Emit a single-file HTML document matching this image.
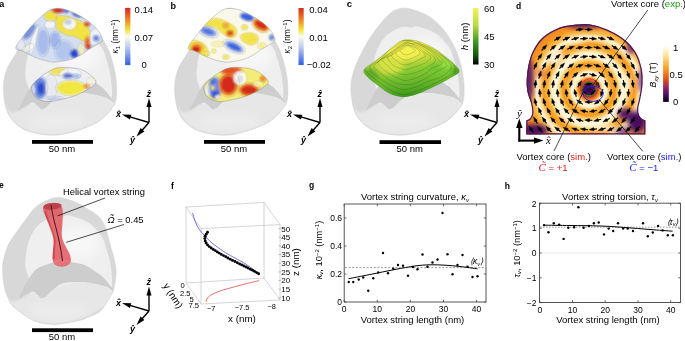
<!DOCTYPE html>
<html><head><meta charset="utf-8"><style>
html,body{margin:0;padding:0;background:#fff;width:685px;height:341px;overflow:hidden}
svg{display:block;will-change:transform}
text{font-family:"Liberation Sans",sans-serif;fill:#000}
</style></head><body>
<svg width="685" height="341" viewBox="0 0 685 341">
<defs>
<filter id="bl1" x="-20%" y="-20%" width="140%" height="140%"><feGaussianBlur stdDeviation="1.5"/></filter>
<filter id="bl2" x="-50%" y="-50%" width="200%" height="200%"><feGaussianBlur stdDeviation="2.5"/></filter>
<filter id="bl4" x="-50%" y="-50%" width="200%" height="200%"><feGaussianBlur stdDeviation="5"/></filter>
<filter id="bl05" x="-20%" y="-20%" width="140%" height="140%"><feGaussianBlur stdDeviation="0.6"/></filter>
<filter id="bl3" x="-50%" y="-50%" width="200%" height="200%"><feGaussianBlur stdDeviation="1.2"/></filter>
<linearGradient id="cbA" x1="0" y1="0" x2="0" y2="1">
<stop offset="0" stop-color="#d42a1e"/><stop offset="0.22" stop-color="#f08a2a"/><stop offset="0.38" stop-color="#f4e23a"/><stop offset="0.5" stop-color="#fbfbf0"/><stop offset="0.7" stop-color="#b8c8ee"/><stop offset="1" stop-color="#2f5ee0"/>
</linearGradient>
<linearGradient id="cbC" x1="0" y1="0" x2="0" y2="1">
<stop offset="0" stop-color="#f4f45a"/><stop offset="0.3" stop-color="#b8dc40"/><stop offset="0.6" stop-color="#3c9a22"/><stop offset="0.85" stop-color="#145010"/><stop offset="1" stop-color="#000"/>
</linearGradient>
<linearGradient id="cbD" x1="0" y1="0" x2="0" y2="1">
<stop offset="0" stop-color="#fffff6"/><stop offset="0.15" stop-color="#fde9a4"/><stop offset="0.35" stop-color="#f9b035"/><stop offset="0.5" stop-color="#f07a1a"/><stop offset="0.62" stop-color="#d8491f"/><stop offset="0.75" stop-color="#902468"/><stop offset="0.88" stop-color="#42105a"/><stop offset="1" stop-color="#0a0010"/>
</linearGradient>
<radialGradient id="gC" cx="408" cy="50" r="55" gradientUnits="userSpaceOnUse">
<stop offset="0" stop-color="#f6f250"/><stop offset="0.35" stop-color="#d8e640"/><stop offset="0.7" stop-color="#7cc830"/><stop offset="1" stop-color="#3c9a1e"/>
</radialGradient>
</defs>

<text x="-0.8" y="6.8" font-size="9" font-weight="bold">a</text>
<text x="170.6" y="8.7" font-size="9" font-weight="bold">b</text>
<text x="346.7" y="7.2" font-size="9.5" font-weight="bold">c</text>
<text x="516" y="9" font-size="8.5" font-weight="bold">d</text>
<text x="-1" y="187.5" font-size="8.5" font-weight="bold">e</text>
<text x="171" y="188.5" font-size="8.5" font-weight="bold">f</text>
<text x="309" y="187.5" font-size="8.5" font-weight="bold">g</text>
<text x="504.7" y="188.7" font-size="8.5" font-weight="bold">h</text>
<g transform="translate(-347.5,0)">
<clipPath id="bca"><path d="M405.4,8.2C408.7,8.0 413.3,9.6 417.7,11.3C422.1,13.0 427.6,15.2 432.0,18.5C436.4,21.8 440.6,26.0 444.4,30.8C448.2,35.6 451.9,41.7 454.6,47.2C457.3,52.7 459.0,58.2 460.5,64.0C462.0,69.8 463.3,76.0 463.8,82.0C464.3,88.0 464.5,95.2 463.5,100.0C462.5,104.8 460.2,107.2 457.7,110.5C455.2,113.8 451.9,117.2 448.3,119.9C444.7,122.6 440.7,124.5 436.0,126.5C431.3,128.5 425.2,130.6 420.0,132.0C414.8,133.4 410.0,134.6 405.0,135.0C400.0,135.4 395.0,135.2 390.0,134.5C385.0,133.8 379.0,132.4 375.0,131.0C371.0,129.6 368.9,128.3 366.0,126.0C363.1,123.7 359.8,120.7 357.5,117.0C355.2,113.3 353.6,109.3 352.5,104.0C351.4,98.7 350.7,90.8 351.0,85.0C351.3,79.2 352.7,73.8 354.5,69.0C356.3,64.2 358.8,61.2 362.0,56.0C365.2,50.8 369.2,43.8 373.5,38.0C377.8,32.2 383.9,25.2 388.0,21.0C392.1,16.8 395.1,14.6 398.0,12.5C400.9,10.4 402.1,8.4 405.4,8.2Z"/></clipPath>
<g clip-path="url(#bca)">
<path d="M405.4,8.2C408.7,8.0 413.3,9.6 417.7,11.3C422.1,13.0 427.6,15.2 432.0,18.5C436.4,21.8 440.6,26.0 444.4,30.8C448.2,35.6 451.9,41.7 454.6,47.2C457.3,52.7 459.0,58.2 460.5,64.0C462.0,69.8 463.3,76.0 463.8,82.0C464.3,88.0 464.5,95.2 463.5,100.0C462.5,104.8 460.2,107.2 457.7,110.5C455.2,113.8 451.9,117.2 448.3,119.9C444.7,122.6 440.7,124.5 436.0,126.5C431.3,128.5 425.2,130.6 420.0,132.0C414.8,133.4 410.0,134.6 405.0,135.0C400.0,135.4 395.0,135.2 390.0,134.5C385.0,133.8 379.0,132.4 375.0,131.0C371.0,129.6 368.9,128.3 366.0,126.0C363.1,123.7 359.8,120.7 357.5,117.0C355.2,113.3 353.6,109.3 352.5,104.0C351.4,98.7 350.7,90.8 351.0,85.0C351.3,79.2 352.7,73.8 354.5,69.0C356.3,64.2 358.8,61.2 362.0,56.0C365.2,50.8 369.2,43.8 373.5,38.0C377.8,32.2 383.9,25.2 388.0,21.0C392.1,16.8 395.1,14.6 398.0,12.5C400.9,10.4 402.1,8.4 405.4,8.2Z" fill="#d8d8d8"/>
<path d="M400.0,27.5C404.4,25.8 407.8,27.7 410.8,27.5C413.8,27.3 413.5,25.4 417.8,26.5C422.1,27.6 431.2,30.4 436.5,34.0C441.8,37.6 446.6,43.9 449.5,48.2C452.4,52.5 452.6,55.4 454.0,60.0C455.4,64.6 457.1,70.2 458.0,76.0C458.9,81.8 460.0,89.7 459.5,95.0C459.0,100.3 457.9,104.0 455.0,108.0C452.1,112.0 447.8,115.8 442.0,119.0C436.2,122.2 427.0,125.4 420.0,127.0C413.0,128.6 406.3,129.7 400.0,128.5C393.7,127.3 385.8,124.8 382.0,120.0C378.2,115.2 378.0,105.3 377.0,100.0C376.0,94.7 376.7,91.7 376.0,88.0C375.3,84.3 373.4,81.7 373.0,78.0C372.6,74.3 373.0,70.2 373.5,66.0C374.0,61.8 374.2,57.8 376.0,53.0C377.8,48.2 380.5,41.8 384.5,37.5C388.5,33.2 395.6,29.2 400.0,27.5Z" fill="#efefef" filter="url(#bl05)"/>
<ellipse cx="425" cy="55" rx="22" ry="16" fill="#f7f7f7" filter="url(#bl4)"/>
<path d="M352.5,104.0C352.6,103.5 356.6,111.3 358.0,112.0C359.4,112.7 364.0,111.8 366.0,111.0C368.0,110.2 376.0,104.8 378.0,104.0C380.0,103.2 384.9,102.5 386.0,103.0C387.1,103.5 387.6,109.8 389.0,109.5C390.4,109.2 396.9,102.1 400.0,100.5C403.1,98.9 416.0,94.3 420.0,93.5C424.0,92.7 436.5,92.1 440.0,92.5C443.5,92.9 452.6,96.4 455.0,97.5C457.4,98.6 463.0,102.2 463.5,103.5C464.0,104.8 461.4,108.5 460.0,110.0C458.6,111.5 452.4,117.3 450.0,119.0C447.6,120.7 439.0,125.2 436.0,126.5C433.0,127.8 423.1,131.2 420.0,132.0C416.9,132.8 408.0,134.8 405.0,135.0C402.0,135.2 393.0,134.9 390.0,134.5C387.0,134.1 377.4,131.8 375.0,131.0C372.6,130.2 367.8,127.4 366.0,126.0C364.2,124.6 358.9,119.2 357.5,117.0C356.1,114.8 352.4,104.5 352.5,104.0Z" fill="#e7e7e7" filter="url(#bl3)"/>
<ellipse cx="405" cy="122" rx="30" ry="8" fill="#ececec" filter="url(#bl4)"/>
<path d="M366.0,110.3C365.6,110.0 368.7,104.1 369.5,102.4C370.3,100.7 373.0,95.2 373.9,93.6C374.8,92.0 377.4,87.8 378.3,86.6C379.2,85.4 381.7,82.2 382.7,81.3C383.7,80.4 385.4,78.7 388.0,77.8C390.6,76.9 403.8,72.3 408.2,72.1C412.6,71.9 427.7,74.4 431.9,76.0C436.1,77.6 447.5,85.5 450.4,88.0C453.3,90.5 459.9,99.5 461.0,101.0C462.1,102.5 462.3,102.9 461.5,102.5C460.7,102.1 455.7,98.1 453.0,97.2C450.3,96.3 438.2,93.6 434.5,93.2C430.8,92.8 418.8,93.0 416.1,93.2C413.4,93.4 409.3,94.5 407.5,95.4C405.7,96.3 399.9,101.2 398.5,102.4C397.1,103.6 394.2,107.0 393.2,107.7C392.2,108.4 389.7,109.6 388.9,109.4C388.1,109.2 386.1,106.7 385.3,106.0C384.5,105.3 382.0,102.5 380.9,102.4C379.8,102.3 375.4,104.2 373.9,105.0C372.4,105.8 366.4,110.6 366.0,110.3Z" fill="#cdcdcd" filter="url(#bl05)"/>
</g>
<path d="M405.4,8.2C408.7,8.0 413.3,9.6 417.7,11.3C422.1,13.0 427.6,15.2 432.0,18.5C436.4,21.8 440.6,26.0 444.4,30.8C448.2,35.6 451.9,41.7 454.6,47.2C457.3,52.7 459.0,58.2 460.5,64.0C462.0,69.8 463.3,76.0 463.8,82.0C464.3,88.0 464.5,95.2 463.5,100.0C462.5,104.8 460.2,107.2 457.7,110.5C455.2,113.8 451.9,117.2 448.3,119.9C444.7,122.6 440.7,124.5 436.0,126.5C431.3,128.5 425.2,130.6 420.0,132.0C414.8,133.4 410.0,134.6 405.0,135.0C400.0,135.4 395.0,135.2 390.0,134.5C385.0,133.8 379.0,132.4 375.0,131.0C371.0,129.6 368.9,128.3 366.0,126.0C363.1,123.7 359.8,120.7 357.5,117.0C355.2,113.3 353.6,109.3 352.5,104.0C351.4,98.7 350.7,90.8 351.0,85.0C351.3,79.2 352.7,73.8 354.5,69.0C356.3,64.2 358.8,61.2 362.0,56.0C365.2,50.8 369.2,43.8 373.5,38.0C377.8,32.2 383.9,25.2 388.0,21.0C392.1,16.8 395.1,14.6 398.0,12.5C400.9,10.4 402.1,8.4 405.4,8.2Z" fill="none" stroke="#c4c4c4" stroke-width="0.5"/>
</g>
<clipPath id="cpa1"><path d="M15.7,47.7C16.0,45.0 20.8,39.3 24.2,34.9C27.6,30.5 32.0,25.3 36.0,21.3C40.0,17.3 44.9,13.2 48.0,11.1C51.1,9.0 52.0,8.9 54.8,8.6C57.6,8.3 61.0,8.3 65.0,9.4C69.0,10.5 74.3,13.1 78.6,15.4C82.8,17.7 87.1,20.3 90.5,23.0C93.9,25.7 97.0,28.7 99.0,31.5C101.0,34.3 102.4,38.0 102.4,40.0C102.4,42.0 101.3,41.8 99.0,43.4C96.7,45.0 91.9,47.4 88.8,49.4C85.7,51.4 83.4,53.6 80.3,55.3C77.2,57.0 74.0,58.5 70.0,59.6C66.0,60.7 60.2,61.7 56.5,62.0C52.8,62.3 51.7,62.1 48.0,61.3C44.3,60.5 38.6,58.7 34.4,57.0C30.1,55.3 25.6,52.5 22.5,51.0C19.4,49.5 15.4,50.4 15.7,47.7Z"/></clipPath>
<g clip-path="url(#cpa1)">
<path d="M15.7,47.7C16.0,45.0 20.8,39.3 24.2,34.9C27.6,30.5 32.0,25.3 36.0,21.3C40.0,17.3 44.9,13.2 48.0,11.1C51.1,9.0 52.0,8.9 54.8,8.6C57.6,8.3 61.0,8.3 65.0,9.4C69.0,10.5 74.3,13.1 78.6,15.4C82.8,17.7 87.1,20.3 90.5,23.0C93.9,25.7 97.0,28.7 99.0,31.5C101.0,34.3 102.4,38.0 102.4,40.0C102.4,42.0 101.3,41.8 99.0,43.4C96.7,45.0 91.9,47.4 88.8,49.4C85.7,51.4 83.4,53.6 80.3,55.3C77.2,57.0 74.0,58.5 70.0,59.6C66.0,60.7 60.2,61.7 56.5,62.0C52.8,62.3 51.7,62.1 48.0,61.3C44.3,60.5 38.6,58.7 34.4,57.0C30.1,55.3 25.6,52.5 22.5,51.0C19.4,49.5 15.4,50.4 15.7,47.7Z" fill="#d4def2"/>
<g filter="url(#bl3)">
<ellipse cx="20" cy="44" rx="4" ry="6" fill="#e6e8ee" transform="rotate(-30 20 44)"/>
<ellipse cx="29.3" cy="31.6" rx="9" ry="4" fill="#7892dc" transform="rotate(-50 29.3 31.6)"/>
<ellipse cx="28" cy="48" rx="6" ry="3" fill="#eeeedc" transform="rotate(-30 28 48)"/>
<ellipse cx="34" cy="40" rx="2.5" ry="14" fill="#f4f5f8" transform="rotate(15 34 40)"/>
<ellipse cx="43" cy="42" rx="6" ry="13" fill="#a8bcec"/>
<ellipse cx="55" cy="40" rx="5" ry="8" fill="#9fb5ea"/>
<ellipse cx="50" cy="24.5" rx="5" ry="4" fill="#f4f5f8"/>
<ellipse cx="50.5" cy="16" rx="6" ry="5" fill="#f0e040"/>
<ellipse cx="58" cy="10.5" rx="6" ry="2.6" fill="#d42a1e"/>
<ellipse cx="66" cy="11" rx="3" ry="1.5" fill="#4a68c8"/>
<ellipse cx="77" cy="14.5" rx="5" ry="2.2" fill="#5070d0" transform="rotate(20 77 14.5)"/>
<ellipse cx="88" cy="18.5" rx="6" ry="3.5" fill="#eef0f4" transform="rotate(30 88 18.5)"/>
<path d="M56,16 C62,15 70,16 78,20 C84,22 88,26 90,32 C91,38 90,42 86,42 C80,40 76,36 72,36 C66,36 60,32 56,28 Z" fill="#f2e242"/>
<ellipse cx="69.5" cy="24" rx="6.5" ry="5.5" fill="#f4f5f8"/>
<ellipse cx="68" cy="22" rx="3" ry="2" fill="#b0c4ee"/>
<ellipse cx="87" cy="24" rx="3" ry="2.3" fill="#e0401e"/>
<ellipse cx="87.5" cy="42.5" rx="2.5" ry="6" fill="#ee6a24"/>
<ellipse cx="88.3" cy="46.8" rx="2.5" ry="2" fill="#d82a1c"/>
<ellipse cx="95" cy="36.5" rx="5" ry="8" fill="#f2f3f6" transform="rotate(20 95 36.5)"/>
<ellipse cx="96" cy="38.3" rx="3" ry="3" fill="#5f84e0"/>
<ellipse cx="64" cy="51" rx="9" ry="10" fill="#b4c6ee"/>
<ellipse cx="74.7" cy="53.6" rx="4.5" ry="4" fill="#2848d0"/>
<ellipse cx="81" cy="50" rx="3.5" ry="6" fill="#f0ecc0"/>
</g>
<g fill="none" stroke="#333" stroke-width="0.3" stroke-opacity="0.28"><ellipse cx="20" cy="44" rx="4.6" ry="6.9" transform="rotate(-30 20 44)"/><ellipse cx="29.3" cy="31.6" rx="10.3" ry="4.6" transform="rotate(-50 29.3 31.6)"/><ellipse cx="28" cy="48" rx="6.9" ry="3.4" transform="rotate(-30 28 48)"/><ellipse cx="34" cy="40" rx="2.9" ry="16.1" transform="rotate(15 34 40)"/><ellipse cx="43" cy="42" rx="6.9" ry="14.9"/><ellipse cx="55" cy="40" rx="5.8" ry="9.2"/><ellipse cx="50" cy="24.5" rx="5.8" ry="4.6"/><ellipse cx="50.5" cy="16" rx="6.9" ry="5.8"/><ellipse cx="58" cy="10.5" rx="6.9" ry="3.0"/><ellipse cx="66" cy="11" rx="3.4" ry="1.7"/><ellipse cx="77" cy="14.5" rx="5.8" ry="2.5" transform="rotate(20 77 14.5)"/><ellipse cx="88" cy="18.5" rx="6.9" ry="4.0" transform="rotate(30 88 18.5)"/><path d="M56,16 C62,15 70,16 78,20 C84,22 88,26 90,32 C91,38 90,42 86,42 C80,40 76,36 72,36 C66,36 60,32 56,28 Z"/><ellipse cx="69.5" cy="24" rx="7.5" ry="6.3"/><ellipse cx="68" cy="22" rx="3.4" ry="2.3"/><ellipse cx="87" cy="24" rx="3.4" ry="2.6"/><ellipse cx="87.5" cy="42.5" rx="2.9" ry="6.9"/><ellipse cx="88.3" cy="46.8" rx="2.9" ry="2.3"/><ellipse cx="95" cy="36.5" rx="5.8" ry="9.2" transform="rotate(20 95 36.5)"/><ellipse cx="96" cy="38.3" rx="3.4" ry="3.4"/><ellipse cx="64" cy="51" rx="10.3" ry="11.5"/><ellipse cx="74.7" cy="53.6" rx="5.2" ry="4.6"/><ellipse cx="81" cy="50" rx="4.0" ry="6.9"/></g>
</g>
<path d="M15.7,47.7C16.0,45.0 20.8,39.3 24.2,34.9C27.6,30.5 32.0,25.3 36.0,21.3C40.0,17.3 44.9,13.2 48.0,11.1C51.1,9.0 52.0,8.9 54.8,8.6C57.6,8.3 61.0,8.3 65.0,9.4C69.0,10.5 74.3,13.1 78.6,15.4C82.8,17.7 87.1,20.3 90.5,23.0C93.9,25.7 97.0,28.7 99.0,31.5C101.0,34.3 102.4,38.0 102.4,40.0C102.4,42.0 101.3,41.8 99.0,43.4C96.7,45.0 91.9,47.4 88.8,49.4C85.7,51.4 83.4,53.6 80.3,55.3C77.2,57.0 74.0,58.5 70.0,59.6C66.0,60.7 60.2,61.7 56.5,62.0C52.8,62.3 51.7,62.1 48.0,61.3C44.3,60.5 38.6,58.7 34.4,57.0C30.1,55.3 25.6,52.5 22.5,51.0C19.4,49.5 15.4,50.4 15.7,47.7Z" fill="none" stroke="#555" stroke-width="0.45" stroke-opacity="0.6"/>
<clipPath id="cpa2"><path d="M31.5,87.4C31.8,84.6 34.6,82.3 37.0,80.0C39.4,77.7 42.2,75.4 45.6,73.4C49.0,71.4 52.4,68.7 57.3,67.8C62.2,66.9 70.0,67.4 74.9,68.1C79.8,68.8 83.1,70.0 86.6,72.2C90.1,74.5 95.6,78.9 96.0,81.6C96.4,84.3 92.5,86.2 89.0,88.6C85.5,90.9 80.2,93.8 74.9,95.7C69.6,97.7 62.2,99.3 57.3,100.3C52.4,101.3 49.3,102.1 45.6,101.5C41.9,100.9 37.4,99.1 35.0,96.8C32.6,94.5 31.2,90.2 31.5,87.4Z"/></clipPath>
<g clip-path="url(#cpa2)">
<path d="M31.5,87.4C31.8,84.6 34.6,82.3 37.0,80.0C39.4,77.7 42.2,75.4 45.6,73.4C49.0,71.4 52.4,68.7 57.3,67.8C62.2,66.9 70.0,67.4 74.9,68.1C79.8,68.8 83.1,70.0 86.6,72.2C90.1,74.5 95.6,78.9 96.0,81.6C96.4,84.3 92.5,86.2 89.0,88.6C85.5,90.9 80.2,93.8 74.9,95.7C69.6,97.7 62.2,99.3 57.3,100.3C52.4,101.3 49.3,102.1 45.6,101.5C41.9,100.9 37.4,99.1 35.0,96.8C32.6,94.5 31.2,90.2 31.5,87.4Z" fill="#eceef2"/>
<g filter="url(#bl3)">
<ellipse cx="40" cy="88" rx="7" ry="11" fill="#6f8ce0"/>
<ellipse cx="40.9" cy="88.6" rx="3.5" ry="6" fill="#2c4cd0"/>
<ellipse cx="33" cy="90" rx="2.5" ry="5" fill="#d0d8f0"/>
<ellipse cx="51" cy="87" rx="5.5" ry="11" fill="#e8eaf0"/>
<ellipse cx="58" cy="71" rx="9" ry="4" fill="#f0e060"/>
<ellipse cx="70" cy="74" rx="10" ry="5" fill="#f4f5f8"/>
<ellipse cx="67.9" cy="75.7" rx="5" ry="2.5" fill="#5070d8"/>
<ellipse cx="76" cy="76" rx="4" ry="2" fill="#a0b8f0"/>
<ellipse cx="71" cy="88" rx="14" ry="7" fill="#f2e640"/>
<ellipse cx="86.6" cy="86.3" rx="3" ry="2" fill="#f09030"/>
<ellipse cx="91" cy="81" rx="4" ry="3" fill="#f4f2d8"/>
<ellipse cx="55" cy="99" rx="9" ry="2.5" fill="#c8d0ec"/>
</g>
<g fill="none" stroke="#333" stroke-width="0.3" stroke-opacity="0.28"><ellipse cx="40" cy="88" rx="8.0" ry="12.6"/><ellipse cx="40.9" cy="88.6" rx="4.0" ry="6.9"/><ellipse cx="33" cy="90" rx="2.9" ry="5.8"/><ellipse cx="51" cy="87" rx="6.3" ry="12.6"/><ellipse cx="58" cy="71" rx="10.3" ry="4.6"/><ellipse cx="70" cy="74" rx="11.5" ry="5.8"/><ellipse cx="67.9" cy="75.7" rx="5.8" ry="2.9"/><ellipse cx="76" cy="76" rx="4.6" ry="2.3"/><ellipse cx="71" cy="88" rx="16.1" ry="8.0"/><ellipse cx="86.6" cy="86.3" rx="3.4" ry="2.3"/><ellipse cx="91" cy="81" rx="4.6" ry="3.4"/><ellipse cx="55" cy="99" rx="10.3" ry="2.9"/></g>
</g>
<path d="M31.5,87.4C31.8,84.6 34.6,82.3 37.0,80.0C39.4,77.7 42.2,75.4 45.6,73.4C49.0,71.4 52.4,68.7 57.3,67.8C62.2,66.9 70.0,67.4 74.9,68.1C79.8,68.8 83.1,70.0 86.6,72.2C90.1,74.5 95.6,78.9 96.0,81.6C96.4,84.3 92.5,86.2 89.0,88.6C85.5,90.9 80.2,93.8 74.9,95.7C69.6,97.7 62.2,99.3 57.3,100.3C52.4,101.3 49.3,102.1 45.6,101.5C41.9,100.9 37.4,99.1 35.0,96.8C32.6,94.5 31.2,90.2 31.5,87.4Z" fill="none" stroke="#555" stroke-width="0.45" stroke-opacity="0.6"/>
<rect x="125.1" y="7.9" width="5.3" height="57.2" fill="url(#cbA)"/>
<text x="134.6" y="13.2" font-size="9.5">0.14</text><text x="134.5" y="40.8" font-size="9.5">0.07</text><text x="141.5" y="67.6" font-size="9.5">0</text>
<text transform="translate(117.5,36.5) rotate(-90)" font-size="8.4" text-anchor="middle"><tspan font-style="italic">&#954;</tspan><tspan font-size="6" dy="2">1</tspan><tspan dy="-2"> (nm</tspan><tspan font-size="6" dy="-3">&#8722;1</tspan><tspan dy="3">)</tspan></text>
<g stroke="#000" stroke-width="1.4" fill="none"><line x1="149" y1="122.5" x2="149.0" y2="102.9"/><line x1="149" y1="122.5" x2="127.4" y2="116.1"/><line x1="149" y1="122.5" x2="139.0" y2="133.7"/></g><path d="M149.0,98.0 L151.5,107.0 L146.5,107.0Z" fill="#000"/><path d="M122.0,114.5 L131.3,114.7 L129.9,119.5Z" fill="#000"/><path d="M136.5,136.5 L140.6,128.1 L144.4,131.5Z" fill="#000"/><text x="148.8" y="96.5" font-size="9" font-style="italic" font-weight="bold" text-anchor="middle">z&#770;</text><text x="118.5" y="117.0" font-size="9" font-style="italic" font-weight="bold" text-anchor="middle">x&#770;</text><text x="132.5" y="143.0" font-size="9" font-style="italic" font-weight="bold" text-anchor="middle">y&#770;</text>
<rect x="32" y="140" width="61" height="3.8" fill="#000"/>
<text x="62.0" y="152.1" font-size="9.5" text-anchor="middle">50 nm</text>
<g transform="translate(-176.3,0)">
<clipPath id="bcb"><path d="M405.4,8.2C408.7,8.0 413.3,9.6 417.7,11.3C422.1,13.0 427.6,15.2 432.0,18.5C436.4,21.8 440.6,26.0 444.4,30.8C448.2,35.6 451.9,41.7 454.6,47.2C457.3,52.7 459.0,58.2 460.5,64.0C462.0,69.8 463.3,76.0 463.8,82.0C464.3,88.0 464.5,95.2 463.5,100.0C462.5,104.8 460.2,107.2 457.7,110.5C455.2,113.8 451.9,117.2 448.3,119.9C444.7,122.6 440.7,124.5 436.0,126.5C431.3,128.5 425.2,130.6 420.0,132.0C414.8,133.4 410.0,134.6 405.0,135.0C400.0,135.4 395.0,135.2 390.0,134.5C385.0,133.8 379.0,132.4 375.0,131.0C371.0,129.6 368.9,128.3 366.0,126.0C363.1,123.7 359.8,120.7 357.5,117.0C355.2,113.3 353.6,109.3 352.5,104.0C351.4,98.7 350.7,90.8 351.0,85.0C351.3,79.2 352.7,73.8 354.5,69.0C356.3,64.2 358.8,61.2 362.0,56.0C365.2,50.8 369.2,43.8 373.5,38.0C377.8,32.2 383.9,25.2 388.0,21.0C392.1,16.8 395.1,14.6 398.0,12.5C400.9,10.4 402.1,8.4 405.4,8.2Z"/></clipPath>
<g clip-path="url(#bcb)">
<path d="M405.4,8.2C408.7,8.0 413.3,9.6 417.7,11.3C422.1,13.0 427.6,15.2 432.0,18.5C436.4,21.8 440.6,26.0 444.4,30.8C448.2,35.6 451.9,41.7 454.6,47.2C457.3,52.7 459.0,58.2 460.5,64.0C462.0,69.8 463.3,76.0 463.8,82.0C464.3,88.0 464.5,95.2 463.5,100.0C462.5,104.8 460.2,107.2 457.7,110.5C455.2,113.8 451.9,117.2 448.3,119.9C444.7,122.6 440.7,124.5 436.0,126.5C431.3,128.5 425.2,130.6 420.0,132.0C414.8,133.4 410.0,134.6 405.0,135.0C400.0,135.4 395.0,135.2 390.0,134.5C385.0,133.8 379.0,132.4 375.0,131.0C371.0,129.6 368.9,128.3 366.0,126.0C363.1,123.7 359.8,120.7 357.5,117.0C355.2,113.3 353.6,109.3 352.5,104.0C351.4,98.7 350.7,90.8 351.0,85.0C351.3,79.2 352.7,73.8 354.5,69.0C356.3,64.2 358.8,61.2 362.0,56.0C365.2,50.8 369.2,43.8 373.5,38.0C377.8,32.2 383.9,25.2 388.0,21.0C392.1,16.8 395.1,14.6 398.0,12.5C400.9,10.4 402.1,8.4 405.4,8.2Z" fill="#d8d8d8"/>
<path d="M400.0,27.5C404.4,25.8 407.8,27.7 410.8,27.5C413.8,27.3 413.5,25.4 417.8,26.5C422.1,27.6 431.2,30.4 436.5,34.0C441.8,37.6 446.6,43.9 449.5,48.2C452.4,52.5 452.6,55.4 454.0,60.0C455.4,64.6 457.1,70.2 458.0,76.0C458.9,81.8 460.0,89.7 459.5,95.0C459.0,100.3 457.9,104.0 455.0,108.0C452.1,112.0 447.8,115.8 442.0,119.0C436.2,122.2 427.0,125.4 420.0,127.0C413.0,128.6 406.3,129.7 400.0,128.5C393.7,127.3 385.8,124.8 382.0,120.0C378.2,115.2 378.0,105.3 377.0,100.0C376.0,94.7 376.7,91.7 376.0,88.0C375.3,84.3 373.4,81.7 373.0,78.0C372.6,74.3 373.0,70.2 373.5,66.0C374.0,61.8 374.2,57.8 376.0,53.0C377.8,48.2 380.5,41.8 384.5,37.5C388.5,33.2 395.6,29.2 400.0,27.5Z" fill="#efefef" filter="url(#bl05)"/>
<ellipse cx="425" cy="55" rx="22" ry="16" fill="#f7f7f7" filter="url(#bl4)"/>
<path d="M352.5,104.0C352.6,103.5 356.6,111.3 358.0,112.0C359.4,112.7 364.0,111.8 366.0,111.0C368.0,110.2 376.0,104.8 378.0,104.0C380.0,103.2 384.9,102.5 386.0,103.0C387.1,103.5 387.6,109.8 389.0,109.5C390.4,109.2 396.9,102.1 400.0,100.5C403.1,98.9 416.0,94.3 420.0,93.5C424.0,92.7 436.5,92.1 440.0,92.5C443.5,92.9 452.6,96.4 455.0,97.5C457.4,98.6 463.0,102.2 463.5,103.5C464.0,104.8 461.4,108.5 460.0,110.0C458.6,111.5 452.4,117.3 450.0,119.0C447.6,120.7 439.0,125.2 436.0,126.5C433.0,127.8 423.1,131.2 420.0,132.0C416.9,132.8 408.0,134.8 405.0,135.0C402.0,135.2 393.0,134.9 390.0,134.5C387.0,134.1 377.4,131.8 375.0,131.0C372.6,130.2 367.8,127.4 366.0,126.0C364.2,124.6 358.9,119.2 357.5,117.0C356.1,114.8 352.4,104.5 352.5,104.0Z" fill="#e7e7e7" filter="url(#bl3)"/>
<ellipse cx="405" cy="122" rx="30" ry="8" fill="#ececec" filter="url(#bl4)"/>
<path d="M366.0,110.3C365.6,110.0 368.7,104.1 369.5,102.4C370.3,100.7 373.0,95.2 373.9,93.6C374.8,92.0 377.4,87.8 378.3,86.6C379.2,85.4 381.7,82.2 382.7,81.3C383.7,80.4 385.4,78.7 388.0,77.8C390.6,76.9 403.8,72.3 408.2,72.1C412.6,71.9 427.7,74.4 431.9,76.0C436.1,77.6 447.5,85.5 450.4,88.0C453.3,90.5 459.9,99.5 461.0,101.0C462.1,102.5 462.3,102.9 461.5,102.5C460.7,102.1 455.7,98.1 453.0,97.2C450.3,96.3 438.2,93.6 434.5,93.2C430.8,92.8 418.8,93.0 416.1,93.2C413.4,93.4 409.3,94.5 407.5,95.4C405.7,96.3 399.9,101.2 398.5,102.4C397.1,103.6 394.2,107.0 393.2,107.7C392.2,108.4 389.7,109.6 388.9,109.4C388.1,109.2 386.1,106.7 385.3,106.0C384.5,105.3 382.0,102.5 380.9,102.4C379.8,102.3 375.4,104.2 373.9,105.0C372.4,105.8 366.4,110.6 366.0,110.3Z" fill="#cdcdcd" filter="url(#bl05)"/>
</g>
<path d="M405.4,8.2C408.7,8.0 413.3,9.6 417.7,11.3C422.1,13.0 427.6,15.2 432.0,18.5C436.4,21.8 440.6,26.0 444.4,30.8C448.2,35.6 451.9,41.7 454.6,47.2C457.3,52.7 459.0,58.2 460.5,64.0C462.0,69.8 463.3,76.0 463.8,82.0C464.3,88.0 464.5,95.2 463.5,100.0C462.5,104.8 460.2,107.2 457.7,110.5C455.2,113.8 451.9,117.2 448.3,119.9C444.7,122.6 440.7,124.5 436.0,126.5C431.3,128.5 425.2,130.6 420.0,132.0C414.8,133.4 410.0,134.6 405.0,135.0C400.0,135.4 395.0,135.2 390.0,134.5C385.0,133.8 379.0,132.4 375.0,131.0C371.0,129.6 368.9,128.3 366.0,126.0C363.1,123.7 359.8,120.7 357.5,117.0C355.2,113.3 353.6,109.3 352.5,104.0C351.4,98.7 350.7,90.8 351.0,85.0C351.3,79.2 352.7,73.8 354.5,69.0C356.3,64.2 358.8,61.2 362.0,56.0C365.2,50.8 369.2,43.8 373.5,38.0C377.8,32.2 383.9,25.2 388.0,21.0C392.1,16.8 395.1,14.6 398.0,12.5C400.9,10.4 402.1,8.4 405.4,8.2Z" fill="none" stroke="#c4c4c4" stroke-width="0.5"/>
</g>
<clipPath id="cpb1"><path d="M188.2,47.7C188.5,45.0 193.3,39.3 196.7,34.9C200.1,30.5 204.5,25.3 208.5,21.3C212.5,17.3 217.4,13.2 220.5,11.1C223.6,9.0 224.5,8.9 227.3,8.6C230.1,8.3 233.5,8.3 237.5,9.4C241.5,10.5 246.8,13.1 251.1,15.4C255.3,17.7 259.6,20.3 263.0,23.0C266.4,25.7 269.5,28.7 271.5,31.5C273.5,34.3 274.9,38.0 274.9,40.0C274.9,42.0 273.8,41.8 271.5,43.4C269.2,45.0 264.4,47.4 261.3,49.4C258.2,51.4 255.9,53.6 252.8,55.3C249.7,57.0 246.5,58.5 242.5,59.6C238.5,60.7 232.7,61.7 229.0,62.0C225.3,62.3 224.2,62.1 220.5,61.3C216.8,60.5 211.2,58.7 206.9,57.0C202.7,55.3 198.1,52.5 195.0,51.0C191.9,49.5 187.9,50.4 188.2,47.7Z"/></clipPath>
<g clip-path="url(#cpb1)">
<path d="M188.2,47.7C188.5,45.0 193.3,39.3 196.7,34.9C200.1,30.5 204.5,25.3 208.5,21.3C212.5,17.3 217.4,13.2 220.5,11.1C223.6,9.0 224.5,8.9 227.3,8.6C230.1,8.3 233.5,8.3 237.5,9.4C241.5,10.5 246.8,13.1 251.1,15.4C255.3,17.7 259.6,20.3 263.0,23.0C266.4,25.7 269.5,28.7 271.5,31.5C273.5,34.3 274.9,38.0 274.9,40.0C274.9,42.0 273.8,41.8 271.5,43.4C269.2,45.0 264.4,47.4 261.3,49.4C258.2,51.4 255.9,53.6 252.8,55.3C249.7,57.0 246.5,58.5 242.5,59.6C238.5,60.7 232.7,61.7 229.0,62.0C225.3,62.3 224.2,62.1 220.5,61.3C216.8,60.5 211.2,58.7 206.9,57.0C202.7,55.3 198.1,52.5 195.0,51.0C191.9,49.5 187.9,50.4 188.2,47.7Z" fill="#faf8ea"/>
<g filter="url(#bl3)">
<path d="M188,44 C192,38 198,40 204,44 C208,48 210,54 206,58 C200,60 192,58 188,52Z" fill="#f2e24a"/>
<ellipse cx="197" cy="48" rx="6" ry="5" fill="#f0a030"/>
<ellipse cx="196" cy="49.4" rx="4" ry="3.5" fill="#d0201c"/>
<path d="M196,27 C202,20 212,17 220,19 C226,21 232,24 236,28 C238,34 236,38 230,38 C224,36 220,30 214,27 C208,26 202,29 196,27Z" fill="#f2e24a"/>
<ellipse cx="225.8" cy="25.5" rx="3" ry="2.5" fill="#f0a030"/>
<ellipse cx="230" cy="33.2" rx="3.5" ry="3" fill="#e04a20"/>
<ellipse cx="208" cy="31.5" rx="10" ry="5" fill="#b8c8ee" transform="rotate(20 208 31.5)"/>
<ellipse cx="208" cy="31.5" rx="7" ry="2.8" fill="#4f74e0" transform="rotate(20 208 31.5)"/>
<ellipse cx="234" cy="46.8" rx="11" ry="5" fill="#b8c8ee" transform="rotate(25 234 46.8)"/>
<ellipse cx="234" cy="46.8" rx="8" ry="3" fill="#3a64e0" transform="rotate(25 234 46.8)"/>
<ellipse cx="247" cy="17" rx="7" ry="3.5" fill="#3a5ee0" transform="rotate(15 247 17)"/>
<ellipse cx="261" cy="25" rx="9" ry="6" fill="#f0a030" transform="rotate(30 261 25)"/>
<ellipse cx="261" cy="25" rx="7" ry="3.5" fill="#d42a1e" transform="rotate(30 261 25)"/>
<path d="M240,36 C244,32 252,32 257,35 C260,39 258,44 252,45 C246,45 241,41 240,36Z" fill="#f2e24a"/>
<ellipse cx="244.5" cy="27.3" rx="3" ry="2.5" fill="#f2e24a"/>
<ellipse cx="271.7" cy="37.5" rx="2.5" ry="3" fill="#6a8ae4"/>
<ellipse cx="225.8" cy="57" rx="3" ry="2" fill="#f2e24a"/>
<ellipse cx="214" cy="51" rx="2" ry="2" fill="#f4e860"/>
<ellipse cx="207" cy="53.6" rx="3" ry="2" fill="#f4e860"/>
<ellipse cx="218" cy="44" rx="6" ry="2.5" fill="#f6f0a8"/>
<ellipse cx="262" cy="46" rx="4" ry="3" fill="#f4ec90"/>
</g>
<g fill="none" stroke="#333" stroke-width="0.3" stroke-opacity="0.28"><path d="M188,44 C192,38 198,40 204,44 C208,48 210,54 206,58 C200,60 192,58 188,52Z"/><ellipse cx="197" cy="48" rx="6.9" ry="5.8"/><ellipse cx="196" cy="49.4" rx="4.6" ry="4.0"/><path d="M196,27 C202,20 212,17 220,19 C226,21 232,24 236,28 C238,34 236,38 230,38 C224,36 220,30 214,27 C208,26 202,29 196,27Z"/><ellipse cx="225.8" cy="25.5" rx="3.4" ry="2.9"/><ellipse cx="230" cy="33.2" rx="4.0" ry="3.4"/><ellipse cx="208" cy="31.5" rx="11.5" ry="5.8" transform="rotate(20 208 31.5)"/><ellipse cx="208" cy="31.5" rx="8.0" ry="3.2" transform="rotate(20 208 31.5)"/><ellipse cx="234" cy="46.8" rx="12.6" ry="5.8" transform="rotate(25 234 46.8)"/><ellipse cx="234" cy="46.8" rx="9.2" ry="3.4" transform="rotate(25 234 46.8)"/><ellipse cx="247" cy="17" rx="8.0" ry="4.0" transform="rotate(15 247 17)"/><ellipse cx="261" cy="25" rx="10.3" ry="6.9" transform="rotate(30 261 25)"/><ellipse cx="261" cy="25" rx="8.0" ry="4.0" transform="rotate(30 261 25)"/><path d="M240,36 C244,32 252,32 257,35 C260,39 258,44 252,45 C246,45 241,41 240,36Z"/><ellipse cx="244.5" cy="27.3" rx="3.4" ry="2.9"/><ellipse cx="271.7" cy="37.5" rx="2.9" ry="3.4"/><ellipse cx="225.8" cy="57" rx="3.4" ry="2.3"/><ellipse cx="214" cy="51" rx="2.3" ry="2.3"/><ellipse cx="207" cy="53.6" rx="3.4" ry="2.3"/><ellipse cx="218" cy="44" rx="6.9" ry="2.9"/><ellipse cx="262" cy="46" rx="4.6" ry="3.4"/></g>
</g>
<path d="M188.2,47.7C188.5,45.0 193.3,39.3 196.7,34.9C200.1,30.5 204.5,25.3 208.5,21.3C212.5,17.3 217.4,13.2 220.5,11.1C223.6,9.0 224.5,8.9 227.3,8.6C230.1,8.3 233.5,8.3 237.5,9.4C241.5,10.5 246.8,13.1 251.1,15.4C255.3,17.7 259.6,20.3 263.0,23.0C266.4,25.7 269.5,28.7 271.5,31.5C273.5,34.3 274.9,38.0 274.9,40.0C274.9,42.0 273.8,41.8 271.5,43.4C269.2,45.0 264.4,47.4 261.3,49.4C258.2,51.4 255.9,53.6 252.8,55.3C249.7,57.0 246.5,58.5 242.5,59.6C238.5,60.7 232.7,61.7 229.0,62.0C225.3,62.3 224.2,62.1 220.5,61.3C216.8,60.5 211.2,58.7 206.9,57.0C202.7,55.3 198.1,52.5 195.0,51.0C191.9,49.5 187.9,50.4 188.2,47.7Z" fill="none" stroke="#555" stroke-width="0.45" stroke-opacity="0.6"/>
<clipPath id="cpb2"><path d="M203.8,87.4C204.1,84.6 207.0,82.3 209.3,80.0C211.7,77.7 214.5,75.4 217.9,73.4C221.3,71.4 224.7,68.7 229.6,67.8C234.5,66.9 242.3,67.4 247.2,68.1C252.1,68.8 255.4,70.0 258.9,72.2C262.4,74.5 267.9,78.9 268.3,81.6C268.7,84.3 264.8,86.2 261.3,88.6C257.8,90.9 252.5,93.8 247.2,95.7C241.9,97.7 234.5,99.3 229.6,100.3C224.7,101.3 221.6,102.1 217.9,101.5C214.2,100.9 209.7,99.1 207.3,96.8C205.0,94.5 203.5,90.2 203.8,87.4Z"/></clipPath>
<g clip-path="url(#cpb2)">
<path d="M203.8,87.4C204.1,84.6 207.0,82.3 209.3,80.0C211.7,77.7 214.5,75.4 217.9,73.4C221.3,71.4 224.7,68.7 229.6,67.8C234.5,66.9 242.3,67.4 247.2,68.1C252.1,68.8 255.4,70.0 258.9,72.2C262.4,74.5 267.9,78.9 268.3,81.6C268.7,84.3 264.8,86.2 261.3,88.6C257.8,90.9 252.5,93.8 247.2,95.7C241.9,97.7 234.5,99.3 229.6,100.3C224.7,101.3 221.6,102.1 217.9,101.5C214.2,100.9 209.7,99.1 207.3,96.8C205.0,94.5 203.5,90.2 203.8,87.4Z" fill="#f4ec78"/>
<g filter="url(#bl3)">
<ellipse cx="208" cy="90" rx="3" ry="6" fill="#e8ecf6"/>
<ellipse cx="215" cy="88" rx="6" ry="11" fill="#7090e4"/>
<ellipse cx="215.4" cy="94.3" rx="3.5" ry="3.5" fill="#3050d8"/>
<ellipse cx="212.8" cy="81.4" rx="2.5" ry="2.5" fill="#4a6ce0"/>
<ellipse cx="212.5" cy="87.8" rx="2" ry="2.5" fill="#f0e060"/>
<ellipse cx="218" cy="97" rx="3" ry="2" fill="#f4f4f0"/>
<ellipse cx="228.3" cy="84.5" rx="10" ry="11" fill="#f08a2a"/>
<ellipse cx="228.3" cy="84.5" rx="7.5" ry="9" fill="#d42a1e"/>
<ellipse cx="231" cy="70.5" rx="11" ry="3.5" fill="#e85020"/>
<ellipse cx="240" cy="78" rx="6.5" ry="7" fill="#f8f8f4"/>
<ellipse cx="240" cy="79" rx="2" ry="3" fill="#d8d8d8"/>
<ellipse cx="249" cy="90" rx="10" ry="6.5" fill="#f08a2a"/>
<ellipse cx="249" cy="90" rx="8" ry="4.5" fill="#d42a1e"/>
<ellipse cx="263" cy="78.8" rx="3" ry="3" fill="#f08a2a"/>
<ellipse cx="258" cy="84" rx="5" ry="3" fill="#f6f0a0"/>
</g>
<g fill="none" stroke="#333" stroke-width="0.3" stroke-opacity="0.28"><ellipse cx="208" cy="90" rx="3.4" ry="6.9"/><ellipse cx="215" cy="88" rx="6.9" ry="12.6"/><ellipse cx="215.4" cy="94.3" rx="4.0" ry="4.0"/><ellipse cx="212.8" cy="81.4" rx="2.9" ry="2.9"/><ellipse cx="212.5" cy="87.8" rx="2.3" ry="2.9"/><ellipse cx="218" cy="97" rx="3.4" ry="2.3"/><ellipse cx="228.3" cy="84.5" rx="11.5" ry="12.6"/><ellipse cx="228.3" cy="84.5" rx="8.6" ry="10.3"/><ellipse cx="231" cy="70.5" rx="12.6" ry="4.0"/><ellipse cx="240" cy="78" rx="7.5" ry="8.0"/><ellipse cx="240" cy="79" rx="2.3" ry="3.4"/><ellipse cx="249" cy="90" rx="11.5" ry="7.5"/><ellipse cx="249" cy="90" rx="9.2" ry="5.2"/><ellipse cx="263" cy="78.8" rx="3.4" ry="3.4"/><ellipse cx="258" cy="84" rx="5.8" ry="3.4"/></g>
</g>
<path d="M203.8,87.4C204.1,84.6 207.0,82.3 209.3,80.0C211.7,77.7 214.5,75.4 217.9,73.4C221.3,71.4 224.7,68.7 229.6,67.8C234.5,66.9 242.3,67.4 247.2,68.1C252.1,68.8 255.4,70.0 258.9,72.2C262.4,74.5 267.9,78.9 268.3,81.6C268.7,84.3 264.8,86.2 261.3,88.6C257.8,90.9 252.5,93.8 247.2,95.7C241.9,97.7 234.5,99.3 229.6,100.3C224.7,101.3 221.6,102.1 217.9,101.5C214.2,100.9 209.7,99.1 207.3,96.8C205.0,94.5 203.5,90.2 203.8,87.4Z" fill="none" stroke="#555" stroke-width="0.45" stroke-opacity="0.6"/>
<rect x="298.5" y="8" width="5.2" height="57" fill="url(#cbA)"/>
<text x="309.3" y="13.2" font-size="9.5">0.04</text><text x="309.3" y="40.8" font-size="9.5">0.01</text><text x="306.8" y="68" font-size="9.5">&#8722;0.02</text>
<text transform="translate(290.2,36.5) rotate(-90)" font-size="8.4" text-anchor="middle"><tspan font-style="italic">&#954;</tspan><tspan font-size="6" dy="2">2</tspan><tspan dy="-2"> (nm</tspan><tspan font-size="6" dy="-3">&#8722;1</tspan><tspan dy="3">)</tspan></text>
<g stroke="#000" stroke-width="1.4" fill="none"><line x1="320" y1="122.5" x2="320.0" y2="102.9"/><line x1="320" y1="122.5" x2="298.4" y2="116.1"/><line x1="320" y1="122.5" x2="310.0" y2="133.7"/></g><path d="M320.0,98.0 L322.5,107.0 L317.5,107.0Z" fill="#000"/><path d="M293.0,114.5 L302.3,114.7 L300.9,119.5Z" fill="#000"/><path d="M307.5,136.5 L311.6,128.1 L315.4,131.5Z" fill="#000"/><text x="319.8" y="96.5" font-size="9" font-style="italic" font-weight="bold" text-anchor="middle">z&#770;</text><text x="289.5" y="117.0" font-size="9" font-style="italic" font-weight="bold" text-anchor="middle">x&#770;</text><text x="303.5" y="143.0" font-size="9" font-style="italic" font-weight="bold" text-anchor="middle">y&#770;</text>
<rect x="204" y="140" width="61" height="3.8" fill="#000"/>
<text x="234.0" y="152.1" font-size="9.5" text-anchor="middle">50 nm</text>
<g transform="translate(0,0)">
<clipPath id="bcc"><path d="M405.4,8.2C409.2,8.4 413.3,9.6 417.7,11.3C422.1,13.0 427.6,15.2 432.0,18.5C436.4,21.8 440.6,26.0 444.4,30.8C448.2,35.6 451.9,41.7 454.6,47.2C457.3,52.7 459.0,58.2 460.5,64.0C462.0,69.8 463.3,76.0 463.8,82.0C464.3,88.0 464.5,95.2 463.5,100.0C462.5,104.8 460.2,107.2 457.7,110.5C455.2,113.8 451.9,117.2 448.3,119.9C444.7,122.6 440.7,124.5 436.0,126.5C431.3,128.5 425.2,130.6 420.0,132.0C414.8,133.4 410.0,134.6 405.0,135.0C400.0,135.4 395.0,135.2 390.0,134.5C385.0,133.8 379.0,132.4 375.0,131.0C371.0,129.6 368.9,128.3 366.0,126.0C363.1,123.7 359.8,120.7 357.5,117.0C355.2,113.3 353.6,109.3 352.5,104.0C351.4,98.7 350.7,90.8 351.0,85.0C351.3,79.2 352.9,73.9 354.5,69.0C356.1,64.1 357.6,60.7 360.3,55.4C363.0,50.1 366.4,43.1 370.5,37.0C374.6,30.9 380.8,22.9 384.9,18.5C389.0,14.1 391.6,12.0 395.0,10.3C398.4,8.6 401.6,8.0 405.4,8.2Z"/></clipPath>
<g clip-path="url(#bcc)">
<path d="M405.4,8.2C409.2,8.4 413.3,9.6 417.7,11.3C422.1,13.0 427.6,15.2 432.0,18.5C436.4,21.8 440.6,26.0 444.4,30.8C448.2,35.6 451.9,41.7 454.6,47.2C457.3,52.7 459.0,58.2 460.5,64.0C462.0,69.8 463.3,76.0 463.8,82.0C464.3,88.0 464.5,95.2 463.5,100.0C462.5,104.8 460.2,107.2 457.7,110.5C455.2,113.8 451.9,117.2 448.3,119.9C444.7,122.6 440.7,124.5 436.0,126.5C431.3,128.5 425.2,130.6 420.0,132.0C414.8,133.4 410.0,134.6 405.0,135.0C400.0,135.4 395.0,135.2 390.0,134.5C385.0,133.8 379.0,132.4 375.0,131.0C371.0,129.6 368.9,128.3 366.0,126.0C363.1,123.7 359.8,120.7 357.5,117.0C355.2,113.3 353.6,109.3 352.5,104.0C351.4,98.7 350.7,90.8 351.0,85.0C351.3,79.2 352.9,73.9 354.5,69.0C356.1,64.1 357.6,60.7 360.3,55.4C363.0,50.1 366.4,43.1 370.5,37.0C374.6,30.9 380.8,22.9 384.9,18.5C389.0,14.1 391.6,12.0 395.0,10.3C398.4,8.6 401.6,8.0 405.4,8.2Z" fill="#d8d8d8"/>
<path d="M400.0,27.5C404.4,25.8 407.8,27.7 410.8,27.5C413.8,27.3 413.5,25.4 417.8,26.5C422.1,27.6 431.2,30.4 436.5,34.0C441.8,37.6 446.6,43.9 449.5,48.2C452.4,52.5 452.6,55.4 454.0,60.0C455.4,64.6 457.1,70.2 458.0,76.0C458.9,81.8 460.0,89.7 459.5,95.0C459.0,100.3 457.9,104.0 455.0,108.0C452.1,112.0 447.8,115.8 442.0,119.0C436.2,122.2 427.0,125.4 420.0,127.0C413.0,128.6 406.3,129.7 400.0,128.5C393.7,127.3 385.8,124.8 382.0,120.0C378.2,115.2 378.0,105.3 377.0,100.0C376.0,94.7 376.7,91.7 376.0,88.0C375.3,84.3 373.4,81.7 373.0,78.0C372.6,74.3 373.0,70.2 373.5,66.0C374.0,61.8 374.2,57.8 376.0,53.0C377.8,48.2 380.5,41.8 384.5,37.5C388.5,33.2 395.6,29.2 400.0,27.5Z" fill="#efefef" filter="url(#bl05)"/>
<ellipse cx="425" cy="55" rx="22" ry="16" fill="#f7f7f7" filter="url(#bl4)"/>
<path d="M352.5,104.0C352.6,103.5 356.6,111.3 358.0,112.0C359.4,112.7 364.0,111.8 366.0,111.0C368.0,110.2 376.0,104.8 378.0,104.0C380.0,103.2 384.9,102.5 386.0,103.0C387.1,103.5 387.6,109.8 389.0,109.5C390.4,109.2 396.9,102.1 400.0,100.5C403.1,98.9 416.0,94.3 420.0,93.5C424.0,92.7 436.5,92.1 440.0,92.5C443.5,92.9 452.6,96.4 455.0,97.5C457.4,98.6 463.0,102.2 463.5,103.5C464.0,104.8 461.4,108.5 460.0,110.0C458.6,111.5 452.4,117.3 450.0,119.0C447.6,120.7 439.0,125.2 436.0,126.5C433.0,127.8 423.1,131.2 420.0,132.0C416.9,132.8 408.0,134.8 405.0,135.0C402.0,135.2 393.0,134.9 390.0,134.5C387.0,134.1 377.4,131.8 375.0,131.0C372.6,130.2 367.8,127.4 366.0,126.0C364.2,124.6 358.9,119.2 357.5,117.0C356.1,114.8 352.4,104.5 352.5,104.0Z" fill="#e7e7e7" filter="url(#bl3)"/>
<ellipse cx="405" cy="122" rx="30" ry="8" fill="#ececec" filter="url(#bl4)"/>
<path d="M366.0,110.3C365.6,110.0 368.7,104.1 369.5,102.4C370.3,100.7 373.0,95.2 373.9,93.6C374.8,92.0 377.4,87.8 378.3,86.6C379.2,85.4 381.7,82.2 382.7,81.3C383.7,80.4 385.4,78.7 388.0,77.8C390.6,76.9 403.8,72.3 408.2,72.1C412.6,71.9 427.7,74.4 431.9,76.0C436.1,77.6 447.5,85.5 450.4,88.0C453.3,90.5 459.9,99.5 461.0,101.0C462.1,102.5 462.3,102.9 461.5,102.5C460.7,102.1 455.7,98.1 453.0,97.2C450.3,96.3 438.2,93.6 434.5,93.2C430.8,92.8 418.8,93.0 416.1,93.2C413.4,93.4 409.3,94.5 407.5,95.4C405.7,96.3 399.9,101.2 398.5,102.4C397.1,103.6 394.2,107.0 393.2,107.7C392.2,108.4 389.7,109.6 388.9,109.4C388.1,109.2 386.1,106.7 385.3,106.0C384.5,105.3 382.0,102.5 380.9,102.4C379.8,102.3 375.4,104.2 373.9,105.0C372.4,105.8 366.4,110.6 366.0,110.3Z" fill="#cdcdcd" filter="url(#bl05)"/>
</g>
<path d="M405.4,8.2C409.2,8.4 413.3,9.6 417.7,11.3C422.1,13.0 427.6,15.2 432.0,18.5C436.4,21.8 440.6,26.0 444.4,30.8C448.2,35.6 451.9,41.7 454.6,47.2C457.3,52.7 459.0,58.2 460.5,64.0C462.0,69.8 463.3,76.0 463.8,82.0C464.3,88.0 464.5,95.2 463.5,100.0C462.5,104.8 460.2,107.2 457.7,110.5C455.2,113.8 451.9,117.2 448.3,119.9C444.7,122.6 440.7,124.5 436.0,126.5C431.3,128.5 425.2,130.6 420.0,132.0C414.8,133.4 410.0,134.6 405.0,135.0C400.0,135.4 395.0,135.2 390.0,134.5C385.0,133.8 379.0,132.4 375.0,131.0C371.0,129.6 368.9,128.3 366.0,126.0C363.1,123.7 359.8,120.7 357.5,117.0C355.2,113.3 353.6,109.3 352.5,104.0C351.4,98.7 350.7,90.8 351.0,85.0C351.3,79.2 352.9,73.9 354.5,69.0C356.1,64.1 357.6,60.7 360.3,55.4C363.0,50.1 366.4,43.1 370.5,37.0C374.6,30.9 380.8,22.9 384.9,18.5C389.0,14.1 391.6,12.0 395.0,10.3C398.4,8.6 401.6,8.0 405.4,8.2Z" fill="none" stroke="#c4c4c4" stroke-width="0.5"/>
</g>
<linearGradient id="gC2" x1="405" y1="42" x2="412" y2="96" gradientUnits="userSpaceOnUse"><stop offset="0" stop-color="#f2f04c"/><stop offset="0.28" stop-color="#cede40"/><stop offset="0.55" stop-color="#84c832"/><stop offset="1" stop-color="#44a022"/></linearGradient>
<clipPath id="cpc"><path d="M407.6,39.6C409.9,39.5 412.4,40.0 415.0,40.5C417.6,41.0 419.4,41.3 422.9,42.8C426.4,44.3 431.8,46.7 436.2,49.5C440.6,52.3 446.2,57.0 449.6,59.8C453.0,62.6 454.9,64.6 456.5,66.5C458.1,68.4 459.3,69.7 459.3,71.0C459.3,72.3 458.8,72.9 456.5,74.5C454.2,76.1 449.7,78.5 445.7,80.7C441.7,82.9 437.1,85.2 432.4,87.4C427.6,89.6 422.0,92.4 417.2,94.0C412.4,95.6 408.2,96.9 403.8,96.9C399.4,96.9 394.6,95.8 390.5,94.0C386.4,92.2 382.8,89.2 379.0,86.4C375.2,83.6 370.2,79.4 367.6,76.9C365.0,74.4 363.9,73.1 363.6,71.5C363.3,69.9 364.3,69.1 366.0,67.5C367.7,65.9 370.9,64.3 374.0,62.0C377.1,59.7 381.5,56.2 384.8,53.5C388.1,50.8 391.3,48.1 394.0,46.0C396.7,43.9 398.7,42.1 401.0,41.0C403.3,39.9 405.3,39.7 407.6,39.6Z"/></clipPath>
<g clip-path="url(#cpc)">
<path d="M407.6,39.6C409.9,39.5 412.4,40.0 415.0,40.5C417.6,41.0 419.4,41.3 422.9,42.8C426.4,44.3 431.8,46.7 436.2,49.5C440.6,52.3 446.2,57.0 449.6,59.8C453.0,62.6 454.9,64.6 456.5,66.5C458.1,68.4 459.3,69.7 459.3,71.0C459.3,72.3 458.8,72.9 456.5,74.5C454.2,76.1 449.7,78.5 445.7,80.7C441.7,82.9 437.1,85.2 432.4,87.4C427.6,89.6 422.0,92.4 417.2,94.0C412.4,95.6 408.2,96.9 403.8,96.9C399.4,96.9 394.6,95.8 390.5,94.0C386.4,92.2 382.8,89.2 379.0,86.4C375.2,83.6 370.2,79.4 367.6,76.9C365.0,74.4 363.9,73.1 363.6,71.5C363.3,69.9 364.3,69.1 366.0,67.5C367.7,65.9 370.9,64.3 374.0,62.0C377.1,59.7 381.5,56.2 384.8,53.5C388.1,50.8 391.3,48.1 394.0,46.0C396.7,43.9 398.7,42.1 401.0,41.0C403.3,39.9 405.3,39.7 407.6,39.6Z" fill="url(#gC2)"/>
<g filter="url(#bl2)"><ellipse cx="406" cy="50" rx="17" ry="10" fill="#f4f050"/><ellipse cx="390" cy="66" rx="14" ry="8" fill="#d4e244"/><ellipse cx="440" cy="70" rx="12" ry="8" fill="#72c430"/><ellipse cx="446" cy="64" rx="6" ry="5" fill="#98e044"/><ellipse cx="370" cy="76" rx="9" ry="8" fill="#62ae2c"/><ellipse cx="457" cy="71" rx="4" ry="4" fill="#3c9a20"/><ellipse cx="410" cy="95" rx="18" ry="3" fill="#40981e"/></g>
<g fill="none" stroke="#1a2a04" stroke-width="0.35" stroke-opacity="0.55"><path d="M407.0,45.7C407.4,45.7 407.9,45.7 408.4,45.8C408.8,45.9 409.0,46.0 409.6,46.3C410.1,46.5 410.8,46.9 411.4,47.4C412.1,47.9 413.0,48.6 413.6,49.0C414.1,49.4 414.4,49.6 414.7,50.0C415.0,50.3 415.3,50.7 415.3,51.0C415.3,51.2 415.1,51.0 414.7,51.3C414.4,51.6 413.9,52.2 413.3,52.6C412.7,52.9 411.8,53.1 411.1,53.4C410.4,53.7 409.6,54.1 408.9,54.3C408.1,54.6 407.5,54.9 406.7,54.9C405.9,54.9 404.9,54.6 404.2,54.4C403.5,54.1 403.0,53.9 402.4,53.4C401.8,53.0 400.9,52.2 400.5,51.8C400.2,51.4 400.1,51.2 400.1,50.9C400.1,50.6 400.2,50.4 400.5,50.1C400.7,49.8 401.0,49.6 401.5,49.3C402.0,48.9 403.0,48.4 403.5,48.0C404.1,47.6 404.4,47.2 404.8,46.9C405.2,46.5 405.7,46.2 406.0,46.0C406.4,45.8 406.6,45.7 407.0,45.7Z"/><path d="M407.4,45.2C408.0,45.2 408.2,45.2 408.9,45.4C409.5,45.5 410.2,45.8 411.2,46.1C412.1,46.5 413.6,46.9 414.8,47.5C416.0,48.2 417.6,49.3 418.5,50.1C419.3,50.9 419.5,51.7 419.8,52.2C420.1,52.8 420.4,52.9 420.3,53.2C420.3,53.6 420.0,53.8 419.5,54.3C419.0,54.7 418.2,55.3 417.3,55.8C416.4,56.3 415.2,56.8 413.9,57.4C412.7,58.0 411.1,58.9 409.8,59.3C408.5,59.7 407.4,59.9 406.2,59.9C405.1,60.0 404.1,59.9 403.0,59.5C401.9,59.1 400.8,58.1 399.7,57.3C398.6,56.6 397.0,55.5 396.4,54.9C395.7,54.3 395.8,54.1 395.8,53.7C395.9,53.2 396.2,52.6 396.6,52.2C397.0,51.8 397.6,51.6 398.3,51.0C399.0,50.4 400.0,49.4 400.8,48.7C401.7,47.9 402.6,47.0 403.3,46.5C404.1,46.0 404.4,45.8 405.1,45.6C405.7,45.4 406.8,45.2 407.4,45.2Z"/><path d="M406.8,44.1C407.7,44.2 408.8,44.8 409.8,45.0C410.7,45.2 410.9,44.9 412.2,45.4C413.5,46.0 415.8,47.2 417.6,48.2C419.3,49.3 421.5,51.0 422.7,51.9C423.9,52.9 424.1,53.3 424.6,53.9C425.1,54.6 425.5,55.5 425.7,56.0C425.8,56.4 426.2,56.1 425.3,56.6C424.5,57.1 422.1,58.1 420.6,58.9C419.0,59.7 417.5,60.7 415.8,61.5C414.2,62.3 412.5,63.2 410.8,63.7C409.0,64.3 406.9,64.9 405.3,64.9C403.6,64.9 402.2,64.6 400.9,64.0C399.6,63.4 398.8,62.4 397.4,61.3C396.1,60.3 393.8,58.9 392.8,57.9C391.9,56.9 391.6,56.0 391.6,55.4C391.6,54.9 392.0,55.1 392.7,54.6C393.4,54.2 394.5,53.6 395.6,52.7C396.6,51.8 397.8,50.2 398.9,49.3C399.9,48.3 401.0,47.6 401.9,46.8C402.8,46.0 403.5,44.9 404.3,44.5C405.2,44.0 405.9,44.0 406.8,44.1Z"/><path d="M406.8,43.2C407.9,43.1 409.3,43.3 410.4,43.5C411.6,43.8 412.0,43.9 413.6,44.7C415.1,45.4 417.8,46.6 419.8,48.0C421.9,49.4 424.2,52.0 425.9,53.3C427.6,54.6 429.1,54.8 429.9,55.6C430.7,56.3 430.8,57.3 430.7,57.9C430.6,58.5 430.5,58.4 429.6,59.2C428.7,60.1 427.1,62.0 425.3,63.0C423.5,64.1 421.0,64.7 418.6,65.6C416.3,66.4 413.3,67.5 411.1,68.2C408.9,68.9 407.2,69.7 405.3,69.7C403.4,69.7 401.9,68.9 399.9,68.2C397.9,67.6 395.2,66.9 393.4,65.6C391.6,64.3 390.0,61.7 388.9,60.4C387.9,59.1 387.2,58.3 387.1,57.7C387.0,57.2 387.3,57.6 388.2,57.0C389.1,56.4 391.0,55.3 392.4,54.1C393.7,52.9 395.1,51.1 396.4,49.8C397.8,48.6 399.2,47.7 400.5,46.8C401.8,46.0 403.2,45.2 404.3,44.5C405.3,43.9 405.8,43.4 406.8,43.2Z"/><path d="M407.0,42.5C408.5,42.5 410.5,43.6 412.0,44.0C413.6,44.4 414.6,44.3 416.5,45.1C418.5,45.8 421.6,47.2 423.9,48.7C426.2,50.2 428.6,52.8 430.4,54.2C432.1,55.6 433.6,56.3 434.5,57.3C435.3,58.3 435.5,59.2 435.4,60.1C435.4,61.0 435.3,61.7 434.3,62.7C433.3,63.6 431.5,64.5 429.5,65.8C427.4,67.1 424.7,69.1 422.0,70.3C419.3,71.5 416.4,72.4 413.5,73.1C410.6,73.9 407.4,74.6 404.7,74.6C402.0,74.5 399.4,73.8 397.2,72.9C395.0,72.1 393.5,71.1 391.5,69.6C389.6,68.1 387.0,65.1 385.5,63.7C384.1,62.3 383.3,62.0 383.0,61.1C382.6,60.3 382.2,59.6 383.3,58.7C384.3,57.8 387.3,57.1 389.3,55.8C391.2,54.4 393.4,52.1 395.0,50.6C396.7,49.1 397.8,47.9 399.1,46.8C400.5,45.7 402.0,44.8 403.3,44.0C404.7,43.3 405.6,42.5 407.0,42.5Z"/><path d="M408.4,42.0C409.9,42.0 410.5,43.1 412.1,43.4C413.7,43.7 415.7,42.9 418.0,43.7C420.2,44.5 422.5,46.1 425.5,48.1C428.5,50.1 433.7,53.9 436.0,55.9C438.2,58.0 437.8,59.2 438.9,60.4C440.0,61.6 442.5,62.3 442.5,63.1C442.6,63.9 441.1,64.3 439.4,65.2C437.6,66.1 434.2,67.0 431.8,68.5C429.3,69.9 427.8,72.2 424.8,73.9C421.8,75.6 417.1,77.6 413.8,78.7C410.5,79.8 407.6,80.7 404.7,80.5C401.9,80.3 399.6,78.9 396.8,77.6C394.0,76.3 390.7,74.5 388.0,72.7C385.3,70.9 382.1,68.5 380.4,66.9C378.8,65.3 378.1,64.0 377.8,63.0C377.6,62.1 378.0,62.2 379.2,61.2C380.3,60.1 382.7,58.4 384.9,56.8C387.1,55.3 390.3,53.6 392.5,51.9C394.7,50.3 396.5,48.5 398.3,47.0C400.0,45.5 401.4,43.9 403.0,43.1C404.7,42.2 406.9,41.9 408.4,42.0Z"/><path d="M407.5,40.5C409.4,40.4 411.2,40.8 412.9,41.5C414.7,42.1 415.3,43.1 417.9,44.4C420.5,45.6 424.7,46.8 428.4,48.9C432.1,50.9 437.3,54.7 439.9,56.8C442.6,59.0 443.0,60.4 444.2,61.9C445.4,63.3 447.0,64.7 446.9,65.8C446.8,66.8 445.5,66.9 443.7,68.0C441.8,69.1 438.6,70.6 435.8,72.2C433.0,73.8 430.4,75.9 427.0,77.7C423.5,79.5 418.5,82.0 414.9,83.2C411.3,84.4 408.9,84.9 405.6,84.8C402.2,84.7 398.0,84.0 394.7,82.7C391.4,81.5 388.7,79.5 385.7,77.3C382.8,75.1 378.9,71.6 376.9,69.8C375.0,68.0 374.1,67.5 374.0,66.4C373.9,65.3 374.8,64.7 376.3,63.3C377.8,61.9 380.7,59.7 383.0,58.0C385.3,56.2 387.8,54.8 390.3,52.7C392.8,50.7 396.1,47.3 397.9,45.6C399.8,43.8 399.9,43.2 401.5,42.3C403.1,41.5 405.6,40.6 407.5,40.5Z"/><path d="M406.3,40.1C408.3,40.2 410.2,41.1 412.7,41.8C415.2,42.4 418.4,42.9 421.5,44.2C424.5,45.5 427.4,47.4 431.2,49.6C434.9,51.8 440.8,54.7 444.1,57.3C447.3,59.8 449.4,62.9 450.6,64.7C451.8,66.6 451.4,67.6 451.2,68.6C451.0,69.6 450.9,69.3 449.3,70.6C447.7,72.0 445.2,74.8 441.6,76.7C438.1,78.5 432.2,79.9 427.9,81.6C423.6,83.3 419.9,85.8 415.8,87.1C411.7,88.4 407.1,89.6 403.4,89.5C399.7,89.4 396.8,87.9 393.4,86.4C390.0,85.0 386.7,83.1 383.1,80.8C379.5,78.4 374.0,74.5 371.8,72.4C369.6,70.3 370.2,69.2 370.0,68.1C369.8,67.0 369.0,66.8 370.5,65.6C372.1,64.4 376.7,63.1 379.4,60.9C382.1,58.6 384.3,54.5 386.8,52.1C389.3,49.7 392.2,48.6 394.6,46.7C397.0,44.9 399.2,42.2 401.2,41.1C403.2,40.0 404.4,40.0 406.3,40.1Z"/><path d="M407.3,41.0C409.8,41.0 413.2,39.8 415.5,40.3C417.7,40.8 417.7,42.4 420.9,44.0C424.1,45.6 430.5,47.5 434.7,49.8C438.8,52.1 442.6,55.5 445.8,58.0C449.0,60.6 452.6,63.1 454.1,65.2C455.6,67.2 454.9,69.2 454.9,70.5C454.8,71.9 456.1,72.0 453.9,73.5C451.8,75.0 446.2,77.4 442.1,79.5C438.1,81.5 433.9,83.9 429.6,85.8C425.3,87.7 420.7,89.3 416.4,90.8C412.2,92.3 408.4,94.9 404.2,94.9C399.9,94.8 394.7,92.2 390.8,90.3C386.9,88.4 384.4,86.1 380.8,83.4C377.1,80.8 371.4,76.7 368.8,74.3C366.1,72.0 365.0,70.8 364.9,69.4C364.7,67.9 365.9,67.3 367.9,65.8C369.9,64.4 373.7,62.9 376.8,60.6C379.8,58.4 383.2,55.0 386.1,52.4C389.1,49.8 391.9,47.0 394.3,45.0C396.7,43.0 398.4,40.9 400.6,40.3C402.8,39.6 404.9,41.0 407.3,41.0Z"/></g>
</g>
<path d="M407.6,39.6C409.5,39.5 413.0,40.1 415.0,40.5C417.0,40.9 420.1,41.6 422.9,42.8C425.7,44.0 432.6,47.2 436.2,49.5C439.8,51.8 446.9,57.5 449.6,59.8C452.3,62.1 455.2,65.0 456.5,66.5C457.8,68.0 459.3,69.9 459.3,71.0C459.3,72.1 458.3,73.2 456.5,74.5C454.7,75.8 448.9,79.0 445.7,80.7C442.5,82.4 436.2,85.6 432.4,87.4C428.6,89.2 421.0,92.7 417.2,94.0C413.4,95.3 407.4,96.9 403.8,96.9C400.2,96.9 393.8,95.4 390.5,94.0C387.2,92.6 382.1,88.7 379.0,86.4C375.9,84.1 369.7,78.9 367.6,76.9C365.5,74.9 363.8,72.8 363.6,71.5C363.4,70.2 364.6,68.8 366.0,67.5C367.4,66.2 371.5,63.9 374.0,62.0C376.5,60.1 382.1,55.6 384.8,53.5C387.5,51.4 391.8,47.7 394.0,46.0C396.2,44.3 399.2,41.9 401.0,41.0C402.8,40.1 405.7,39.7 407.6,39.6Z" fill="none" stroke="#3a6a18" stroke-width="0.4" stroke-opacity="0.5"/>
<rect x="473" y="8" width="5.5" height="56.5" fill="url(#cbC)"/>
<text x="484" y="12" font-size="9.5">60</text><text x="484" y="40.2" font-size="9.5">45</text><text x="484" y="68" font-size="9.5">30</text>
<text transform="translate(468.3,36.5) rotate(-90)" font-size="9.6" text-anchor="middle"><tspan font-style="italic">h</tspan> (nm)</text>
<g stroke="#000" stroke-width="1.4" fill="none"><line x1="497" y1="122.5" x2="497.0" y2="102.9"/><line x1="497" y1="122.5" x2="475.4" y2="116.1"/><line x1="497" y1="122.5" x2="487.0" y2="133.7"/></g><path d="M497.0,98.0 L499.5,107.0 L494.5,107.0Z" fill="#000"/><path d="M470.0,114.5 L479.3,114.7 L477.9,119.5Z" fill="#000"/><path d="M484.5,136.5 L488.6,128.1 L492.4,131.5Z" fill="#000"/><text x="496.8" y="96.5" font-size="9" font-style="italic" font-weight="bold" text-anchor="middle">z&#770;</text><text x="466.5" y="117.0" font-size="9" font-style="italic" font-weight="bold" text-anchor="middle">x&#770;</text><text x="480.5" y="143.0" font-size="9" font-style="italic" font-weight="bold" text-anchor="middle">y&#770;</text>
<rect x="379.5" y="140.2" width="61.5" height="3.8" fill="#000"/>
<text x="409.75" y="152.29999999999998" font-size="9.5" text-anchor="middle">50 nm</text>
<g transform="translate(-347.5,189)">
<clipPath id="bce"><path d="M405.5,8.4C409.2,8.2 412.5,9.4 416.0,10.5C419.5,11.6 423.4,13.3 426.7,15.0C430.0,16.7 432.8,18.4 436.0,20.5C439.2,22.6 443.3,24.8 446.0,27.4C448.7,30.0 450.5,33.1 452.0,36.0C453.5,38.9 453.7,41.2 454.8,45.0C455.9,48.8 457.2,54.4 458.5,59.0C459.8,63.6 461.5,68.2 462.3,72.6C463.1,77.0 463.7,80.6 463.5,85.3C463.3,90.0 462.2,96.8 461.0,101.0C459.8,105.2 458.2,106.9 456.0,110.4C453.8,113.9 451.3,119.2 447.8,122.2C444.3,125.2 438.5,127.0 435.0,128.5C431.5,130.1 430.9,130.5 426.7,131.5C422.5,132.5 414.4,133.8 410.0,134.5C405.6,135.2 404.5,135.7 400.3,135.4C396.1,135.2 389.4,134.3 385.0,133.0C380.6,131.7 377.4,129.7 373.9,127.5C370.4,125.3 366.6,122.2 364.0,120.0C361.4,117.8 360.1,117.9 358.1,114.3C356.1,110.7 353.3,104.7 352.0,98.5C350.7,92.3 349.7,84.0 350.1,77.4C350.5,70.8 352.9,63.7 354.5,59.0C356.1,54.3 358.2,51.9 360.0,49.0C361.8,46.1 362.9,44.5 365.1,41.5C367.3,38.5 370.1,34.8 373.0,31.0C375.9,27.2 379.2,21.9 382.7,18.6C386.2,15.4 390.2,13.2 394.0,11.5C397.8,9.8 401.8,8.6 405.5,8.4Z"/></clipPath>
<g clip-path="url(#bce)">
<path d="M405.5,8.4C409.2,8.2 412.5,9.4 416.0,10.5C419.5,11.6 423.4,13.3 426.7,15.0C430.0,16.7 432.8,18.4 436.0,20.5C439.2,22.6 443.3,24.8 446.0,27.4C448.7,30.0 450.5,33.1 452.0,36.0C453.5,38.9 453.7,41.2 454.8,45.0C455.9,48.8 457.2,54.4 458.5,59.0C459.8,63.6 461.5,68.2 462.3,72.6C463.1,77.0 463.7,80.6 463.5,85.3C463.3,90.0 462.2,96.8 461.0,101.0C459.8,105.2 458.2,106.9 456.0,110.4C453.8,113.9 451.3,119.2 447.8,122.2C444.3,125.2 438.5,127.0 435.0,128.5C431.5,130.1 430.9,130.5 426.7,131.5C422.5,132.5 414.4,133.8 410.0,134.5C405.6,135.2 404.5,135.7 400.3,135.4C396.1,135.2 389.4,134.3 385.0,133.0C380.6,131.7 377.4,129.7 373.9,127.5C370.4,125.3 366.6,122.2 364.0,120.0C361.4,117.8 360.1,117.9 358.1,114.3C356.1,110.7 353.3,104.7 352.0,98.5C350.7,92.3 349.7,84.0 350.1,77.4C350.5,70.8 352.9,63.7 354.5,59.0C356.1,54.3 358.2,51.9 360.0,49.0C361.8,46.1 362.9,44.5 365.1,41.5C367.3,38.5 370.1,34.8 373.0,31.0C375.9,27.2 379.2,21.9 382.7,18.6C386.2,15.4 390.2,13.2 394.0,11.5C397.8,9.8 401.8,8.6 405.5,8.4Z" fill="#d8d8d8"/>
<path d="M400.0,27.5C404.4,25.8 407.8,27.7 410.8,27.5C413.8,27.3 413.5,25.4 417.8,26.5C422.1,27.6 431.2,30.4 436.5,34.0C441.8,37.6 446.6,43.9 449.5,48.2C452.4,52.5 452.6,55.4 454.0,60.0C455.4,64.6 457.1,70.2 458.0,76.0C458.9,81.8 460.0,89.7 459.5,95.0C459.0,100.3 457.9,104.0 455.0,108.0C452.1,112.0 447.8,115.8 442.0,119.0C436.2,122.2 427.0,125.4 420.0,127.0C413.0,128.6 406.3,129.7 400.0,128.5C393.7,127.3 385.8,124.8 382.0,120.0C378.2,115.2 378.0,105.3 377.0,100.0C376.0,94.7 376.7,91.7 376.0,88.0C375.3,84.3 373.4,81.7 373.0,78.0C372.6,74.3 373.0,70.2 373.5,66.0C374.0,61.8 374.2,57.8 376.0,53.0C377.8,48.2 380.5,41.8 384.5,37.5C388.5,33.2 395.6,29.2 400.0,27.5Z" fill="#efefef" filter="url(#bl05)"/>
<ellipse cx="425" cy="55" rx="22" ry="16" fill="#f7f7f7" filter="url(#bl4)"/>
<path d="M352.5,104.0C352.6,103.5 356.6,111.3 358.0,112.0C359.4,112.7 364.0,111.8 366.0,111.0C368.0,110.2 376.0,104.8 378.0,104.0C380.0,103.2 384.9,102.5 386.0,103.0C387.1,103.5 387.6,109.8 389.0,109.5C390.4,109.2 396.9,102.1 400.0,100.5C403.1,98.9 416.0,94.3 420.0,93.5C424.0,92.7 436.5,92.1 440.0,92.5C443.5,92.9 452.6,96.4 455.0,97.5C457.4,98.6 463.0,102.2 463.5,103.5C464.0,104.8 461.4,108.5 460.0,110.0C458.6,111.5 452.4,117.3 450.0,119.0C447.6,120.7 439.0,125.2 436.0,126.5C433.0,127.8 423.1,131.2 420.0,132.0C416.9,132.8 408.0,134.8 405.0,135.0C402.0,135.2 393.0,134.9 390.0,134.5C387.0,134.1 377.4,131.8 375.0,131.0C372.6,130.2 367.8,127.4 366.0,126.0C364.2,124.6 358.9,119.2 357.5,117.0C356.1,114.8 352.4,104.5 352.5,104.0Z" fill="#e7e7e7" filter="url(#bl3)"/>
<ellipse cx="405" cy="122" rx="30" ry="8" fill="#ececec" filter="url(#bl4)"/>
<path d="M366.0,110.3C365.6,110.0 368.7,104.1 369.5,102.4C370.3,100.7 373.0,95.2 373.9,93.6C374.8,92.0 377.4,87.8 378.3,86.6C379.2,85.4 381.7,82.2 382.7,81.3C383.7,80.4 385.4,78.7 388.0,77.8C390.6,76.9 403.8,72.3 408.2,72.1C412.6,71.9 427.7,74.4 431.9,76.0C436.1,77.6 447.5,85.5 450.4,88.0C453.3,90.5 459.9,99.5 461.0,101.0C462.1,102.5 462.3,102.9 461.5,102.5C460.7,102.1 455.7,98.1 453.0,97.2C450.3,96.3 438.2,93.6 434.5,93.2C430.8,92.8 418.8,93.0 416.1,93.2C413.4,93.4 409.3,94.5 407.5,95.4C405.7,96.3 399.9,101.2 398.5,102.4C397.1,103.6 394.2,107.0 393.2,107.7C392.2,108.4 389.7,109.6 388.9,109.4C388.1,109.2 386.1,106.7 385.3,106.0C384.5,105.3 382.0,102.5 380.9,102.4C379.8,102.3 375.4,104.2 373.9,105.0C372.4,105.8 366.4,110.6 366.0,110.3Z" fill="#cdcdcd" filter="url(#bl05)"/>
</g>
<path d="M405.5,8.4C409.2,8.2 412.5,9.4 416.0,10.5C419.5,11.6 423.4,13.3 426.7,15.0C430.0,16.7 432.8,18.4 436.0,20.5C439.2,22.6 443.3,24.8 446.0,27.4C448.7,30.0 450.5,33.1 452.0,36.0C453.5,38.9 453.7,41.2 454.8,45.0C455.9,48.8 457.2,54.4 458.5,59.0C459.8,63.6 461.5,68.2 462.3,72.6C463.1,77.0 463.7,80.6 463.5,85.3C463.3,90.0 462.2,96.8 461.0,101.0C459.8,105.2 458.2,106.9 456.0,110.4C453.8,113.9 451.3,119.2 447.8,122.2C444.3,125.2 438.5,127.0 435.0,128.5C431.5,130.1 430.9,130.5 426.7,131.5C422.5,132.5 414.4,133.8 410.0,134.5C405.6,135.2 404.5,135.7 400.3,135.4C396.1,135.2 389.4,134.3 385.0,133.0C380.6,131.7 377.4,129.7 373.9,127.5C370.4,125.3 366.6,122.2 364.0,120.0C361.4,117.8 360.1,117.9 358.1,114.3C356.1,110.7 353.3,104.7 352.0,98.5C350.7,92.3 349.7,84.0 350.1,77.4C350.5,70.8 352.9,63.7 354.5,59.0C356.1,54.3 358.2,51.9 360.0,49.0C361.8,46.1 362.9,44.5 365.1,41.5C367.3,38.5 370.1,34.8 373.0,31.0C375.9,27.2 379.2,21.9 382.7,18.6C386.2,15.4 390.2,13.2 394.0,11.5C397.8,9.8 401.8,8.6 405.5,8.4Z" fill="none" stroke="#c4c4c4" stroke-width="0.5"/>
</g>
<g stroke="#000" stroke-width="1.4" fill="none"><line x1="149" y1="311" x2="149.0" y2="291.4"/><line x1="149" y1="311" x2="127.4" y2="304.6"/><line x1="149" y1="311" x2="139.0" y2="322.2"/></g><path d="M149.0,286.5 L151.5,295.5 L146.5,295.5Z" fill="#000"/><path d="M122.0,303.0 L131.3,303.2 L129.9,308.0Z" fill="#000"/><path d="M136.5,325.0 L140.6,316.6 L144.4,320.0Z" fill="#000"/><text x="148.8" y="285" font-size="9" font-style="italic" font-weight="bold" text-anchor="middle">z&#770;</text><text x="118.5" y="305.5" font-size="9" font-style="italic" font-weight="bold" text-anchor="middle">x&#770;</text><text x="132.5" y="331.5" font-size="9" font-style="italic" font-weight="bold" text-anchor="middle">y&#770;</text>
<rect x="32" y="328.3" width="61" height="3.8" fill="#000"/>
<text x="62.0" y="340.40000000000003" font-size="9.5" text-anchor="middle">50 nm</text>
<path d="M43.0,208.5C42.9,210.2 44.2,212.8 45.0,215.0C45.8,217.2 46.9,219.5 48.0,222.0C49.1,224.5 50.6,227.5 51.5,230.0C52.4,232.5 53.1,234.5 53.5,237.0C53.9,239.5 53.9,242.5 53.8,245.0C53.7,247.5 53.0,249.7 52.8,252.0C52.6,254.3 52.1,256.9 52.5,259.0C52.9,261.1 53.6,263.2 55.0,264.5C56.4,265.8 59.0,266.4 61.0,266.6C63.0,266.8 65.4,266.3 67.0,265.5C68.6,264.7 70.0,263.6 70.6,262.0C71.1,260.4 70.9,258.2 70.3,256.0C69.7,253.8 68.1,251.3 67.0,249.0C65.9,246.7 64.4,244.3 63.5,242.0C62.6,239.7 62.0,237.7 61.8,235.0C61.6,232.3 62.0,229.0 62.2,226.0C62.4,223.0 62.8,220.0 62.8,217.0C62.8,214.0 63.1,210.2 62.3,208.0C61.5,205.8 59.9,204.8 58.0,204.0C56.1,203.2 53.1,202.9 51.0,203.0C48.9,203.1 46.8,203.6 45.5,204.5C44.2,205.4 43.1,206.8 43.0,208.5Z" fill="#e04850" fill-opacity="0.78"/>
<path d="M45.0,211.0C45.5,212.5 46.8,216.7 48.0,220.0C49.2,223.3 50.9,227.7 52.0,231.0C53.1,234.3 54.2,236.8 54.5,240.0C54.8,243.2 54.1,246.8 54.0,250.0C53.9,253.2 54.0,257.5 54.0,259.0" stroke="#c83038" stroke-width="2" fill="none" opacity="0.6"/>
<ellipse cx="52.5" cy="206.3" rx="9.3" ry="3.4" fill="#b83c44" opacity="0.85" transform="rotate(-6 52.5 206.3)"/>
<ellipse cx="62" cy="262.5" rx="8.5" ry="3.5" fill="#ec8088" opacity="0.55"/>
<path d="M50.9,204.9C51.3,207.1 52.4,213.2 53.5,218.0C54.6,222.8 56.3,229.0 57.5,234.0C58.7,239.0 59.7,243.5 60.5,248.0C61.3,252.5 62.2,258.8 62.5,261.0" stroke="#300c0c" stroke-width="0.9" fill="none"/>
<g stroke="#000" stroke-width="0.7"><line x1="57.5" y1="215.9" x2="105" y2="198"/><line x1="66.3" y1="242.3" x2="124" y2="224.5"/></g>
<text x="63" y="195" font-size="9.4" textLength="82" lengthAdjust="spacingAndGlyphs">Helical vortex string</text>
<text x="107.5" y="223" font-size="9.4"><tspan font-style="italic">&#937;&#771;</tspan> = 0.45</text>
<clipPath id="cpd"><path d="M526.3,120.5C526.9,120.1 529.2,119.6 530.2,118.3C531.2,117.0 532.2,115.0 532.3,112.5C532.4,110.0 531.8,106.4 531.0,103.0C530.2,99.6 528.2,95.8 527.5,92.0C526.8,88.2 526.5,84.5 526.7,80.0C526.9,75.5 527.5,69.8 528.5,65.0C529.5,60.2 530.6,55.6 533.0,51.0C535.4,46.4 538.3,41.4 542.7,37.5C547.1,33.6 554.0,29.8 559.6,27.6C565.2,25.5 571.4,25.1 576.5,24.6C581.6,24.1 585.0,23.6 590.0,24.4C595.0,25.2 600.9,26.9 606.5,29.3C612.1,31.7 618.6,34.9 623.4,38.7C628.2,42.5 632.5,47.1 635.5,52.0C638.5,56.9 640.3,62.7 641.5,68.0C642.7,73.3 642.7,79.0 642.5,84.0C642.3,89.0 641.2,94.0 640.5,98.0C639.8,102.0 638.6,105.2 638.3,108.0C638.0,110.8 638.3,112.8 638.8,114.5C639.3,116.2 640.4,117.5 641.5,118.5C642.6,119.5 644.8,120.2 645.4,120.5 L645.4,134.4 L526.3,134.4 Z"/></clipPath>
<radialGradient id="gD" cx="589" cy="89.5" r="70" gradientUnits="userSpaceOnUse"><stop offset="0" stop-color="#2a0838"/><stop offset="0.07" stop-color="#4a1058"/><stop offset="0.12" stop-color="#d04828"/><stop offset="0.155" stop-color="#f59424"/><stop offset="0.2" stop-color="#fff0c4"/><stop offset="0.25" stop-color="#fff4d4"/><stop offset="0.3" stop-color="#f9b440"/><stop offset="0.37" stop-color="#f5981e"/><stop offset="0.42" stop-color="#fcd070"/><stop offset="0.47" stop-color="#fffae6"/><stop offset="0.53" stop-color="#fff0c4"/><stop offset="0.59" stop-color="#f9b440"/><stop offset="0.65" stop-color="#f5981e"/><stop offset="0.7" stop-color="#fcd488"/><stop offset="0.75" stop-color="#fff6dc"/><stop offset="0.8" stop-color="#fbc258"/><stop offset="0.88" stop-color="#f59a22"/><stop offset="1" stop-color="#ec8020"/></radialGradient>
<g clip-path="url(#cpd)">
<rect x="520" y="20" width="130" height="120" fill="url(#gD)"/>
<g filter="url(#bl2)">
<ellipse cx="535" cy="130" rx="13" ry="6" fill="#4a1060"/><ellipse cx="637" cy="122" rx="9" ry="11" fill="#4a1060"/><ellipse cx="622" cy="131" rx="8" ry="3" fill="#6a2068"/><ellipse cx="625" cy="114" rx="7" ry="6" fill="#5a1868"/>
<ellipse cx="529" cy="80" rx="4.5" ry="22" fill="#5a1868"/><ellipse cx="541" cy="73" rx="4" ry="5" fill="#e06a28"/>
<ellipse cx="584" cy="25" rx="18" ry="3" fill="#4a1060"/><ellipse cx="631" cy="47" rx="4" ry="7" fill="#7a2868"/><ellipse cx="641" cy="80" rx="2.5" ry="12" fill="#7a2868"/>
<ellipse cx="556" cy="58" rx="5" ry="9" fill="#fff8e8" transform="rotate(40 556 58)"/><ellipse cx="605" cy="128" rx="13" ry="2.5" fill="#fff8e8"/>
<ellipse cx="627" cy="82" rx="3" ry="9" fill="#fff4dc"/><ellipse cx="575" cy="40" rx="10" ry="3" fill="#fff0d0"/>
</g>
<path d="M526.3,120.5C526.9,120.1 529.2,119.6 530.2,118.3C531.2,117.0 532.2,115.0 532.3,112.5C532.4,110.0 531.8,106.4 531.0,103.0C530.2,99.6 528.2,95.8 527.5,92.0C526.8,88.2 526.5,84.5 526.7,80.0C526.9,75.5 527.5,69.8 528.5,65.0C529.5,60.2 530.6,55.6 533.0,51.0C535.4,46.4 538.3,41.4 542.7,37.5C547.1,33.6 554.0,29.8 559.6,27.6C565.2,25.5 571.4,25.1 576.5,24.6C581.6,24.1 585.0,23.6 590.0,24.4C595.0,25.2 600.9,26.9 606.5,29.3C612.1,31.7 618.6,34.9 623.4,38.7C628.2,42.5 632.5,47.1 635.5,52.0C638.5,56.9 640.3,62.7 641.5,68.0C642.7,73.3 642.7,79.0 642.5,84.0C642.3,89.0 641.2,94.0 640.5,98.0C639.8,102.0 638.6,105.2 638.3,108.0C638.0,110.8 638.3,112.8 638.8,114.5C639.3,116.2 640.4,117.5 641.5,118.5C642.6,119.5 644.8,120.2 645.4,120.5 L645.4,134.4 L526.3,134.4 Z" fill="none" stroke="#4a1460" stroke-width="2.4" filter="url(#bl05)"/>
<path d="M575.8,30.1L579.0,29.6M584.7,29.5L587.9,29.5M554.3,40.6L557.0,38.9M562.9,40.1L565.8,38.9M571.5,39.6L574.6,38.8M580.3,38.9L583.5,38.6M589.1,38.3L592.3,38.5M598.1,37.6L601.2,38.4M607.1,37.0L610.1,38.3M541.6,50.5L543.8,48.2M550.2,50.2L552.6,48.1M558.7,49.8L561.4,48.0M567.3,49.2L570.2,47.9M575.9,48.5L579.0,47.8M584.7,47.7L587.9,47.6M593.6,46.9L596.7,47.5M602.6,46.2L605.6,47.4M611.8,45.6L614.5,47.3M621.0,45.1L623.4,47.2M537.7,60.0L539.5,57.3M546.3,59.7L548.3,57.3M554.8,59.4L557.1,57.2M563.2,58.9L565.9,57.1M571.7,58.2L574.7,57.0M580.3,57.3L583.5,56.8M589.1,56.2L592.3,56.6M598.2,55.3L601.2,56.5M607.4,54.6L610.1,56.3M616.7,54.1L619.0,56.2M625.9,53.7L628.0,56.2M533.9,69.3L535.2,66.4M542.5,69.2L544.0,66.4M551.0,69.0L552.8,66.4M559.4,68.7L561.5,66.3M567.8,68.1L570.3,66.2M576.1,67.2L579.0,66.0M584.7,65.9L587.9,65.8M593.7,64.5L596.7,65.5M603.1,63.5L605.7,65.4M612.5,62.9L614.6,65.3M621.8,62.6L623.6,65.2M630.9,62.4L632.5,65.2M538.8,78.6L539.7,75.5M547.4,78.5L548.5,75.5M556.0,78.4L557.3,75.5M564.3,78.1L566.1,75.4M572.5,77.5L574.8,75.3M580.4,76.1L583.5,75.1M589.2,73.8L592.3,74.7M598.9,72.3L601.3,74.4M608.5,71.6L610.3,74.3M617.9,71.3L619.2,74.2M627.0,71.2L628.2,74.2M636.1,71.1L637.0,74.2M535.0,87.8L535.4,84.6M543.8,87.8L544.2,84.6M552.6,87.8L553.0,84.6M561.2,87.7L561.9,84.6M569.7,87.6L570.6,84.6M577.7,87.3L579.3,84.5M584.7,84.2L587.9,84.0M595.2,80.7L597.0,83.3M605.0,80.2L606.0,83.3M614.3,80.1L615.0,83.2M623.3,80.1L623.8,83.2M632.3,80.1L632.7,83.2M540.2,96.9L539.9,93.7M549.1,96.9L548.8,93.7M558.0,96.9L557.7,93.7M567.0,96.8L566.6,93.7M576.3,96.8L575.5,93.7M586.4,96.2L584.6,93.6M595.6,90.1L593.5,92.5M602.9,89.2L602.0,92.3M611.3,89.1L610.8,92.3M620.0,89.1L619.6,92.3M628.7,89.1L628.5,92.3M536.3,105.9L535.6,102.7M545.4,105.8L544.5,102.7M554.4,105.7L553.4,102.7M563.6,105.6L562.3,102.7M573.1,105.3L571.2,102.6M582.8,104.4L580.3,102.5M592.4,102.2L589.2,102.1M600.6,99.9L598.0,101.7M608.5,98.9L606.7,101.5M616.8,98.5L615.4,101.4M625.3,98.4L624.2,101.4M633.9,98.3L633.0,101.4M541.5,114.7L540.2,111.8M550.6,114.6L549.1,111.7M559.8,114.3L558.0,111.7M569.1,113.9L566.9,111.6M578.6,113.2L575.9,111.5M588.0,112.0L584.8,111.3M596.8,110.4L593.7,111.0M605.2,109.1L602.5,110.8M613.5,108.4L611.2,110.6M621.8,107.9L620.0,110.6M630.3,107.7L628.7,110.5M537.4,123.6L535.8,120.8M546.5,123.4L544.7,120.8M555.7,123.2L553.6,120.7M564.9,122.8L562.5,120.7M574.2,122.2L571.5,120.6M583.4,121.3L580.4,120.4M592.4,120.3L589.2,120.2M601.2,119.2L598.1,120.0M609.7,118.3L606.9,119.9M618.1,117.7L615.6,119.7M626.5,117.3L624.4,119.7M635.0,117.0L633.2,119.6M533.3,132.5L531.4,129.8M542.4,132.3L540.3,129.8M551.5,132.0L549.2,129.8M560.7,131.7L558.1,129.7M569.8,131.2L567.1,129.6M579.0,130.5L576.0,129.5M588.0,129.7L584.8,129.4M596.9,128.9L593.7,129.2M605.6,128.1L602.5,129.1M614.1,127.4L611.3,128.9M622.6,126.9L620.1,128.8M631.2,126.5L628.9,128.8M639.7,126.3L637.7,128.7" stroke="#000" stroke-width="1.15" fill="none"/>
<path d="M583.6,28.9L579.3,31.2L578.2,29.7L578.8,28.0ZM592.4,29.5L587.9,31.2L587.1,29.5L587.8,27.9ZM560.9,36.5L557.9,40.3L556.3,39.4L556.1,37.5ZM570.0,37.0L566.5,40.4L565.1,39.2L565.1,37.3ZM579.1,37.6L575.1,40.3L573.9,39.0L574.2,37.2ZM588.0,38.2L583.6,40.3L582.7,38.7L583.3,37.0ZM596.9,38.9L592.2,40.2L591.5,38.5L592.4,36.9ZM605.6,39.5L600.8,40.0L600.4,38.2L601.6,36.8ZM614.3,40.1L609.4,39.8L609.3,38.0L610.7,36.8ZM547.0,44.8L545.0,49.3L543.3,48.7L542.6,47.0ZM556.1,45.1L553.7,49.3L552.0,48.6L551.5,46.8ZM565.3,45.5L562.3,49.4L560.7,48.5L560.5,46.6ZM574.4,46.1L570.9,49.4L569.5,48.2L569.6,46.4ZM583.5,46.8L579.4,49.4L578.2,48.0L578.7,46.2ZM592.4,47.6L587.9,49.3L587.1,47.7L587.8,46.0ZM601.2,48.4L596.4,49.1L595.9,47.3L597.0,45.9ZM609.9,49.1L605.0,48.9L604.9,47.1L606.2,45.8ZM618.4,49.7L613.6,48.7L613.8,46.8L615.4,45.9ZM626.9,50.1L622.4,48.5L622.8,46.7L624.5,45.9ZM542.1,53.5L540.9,58.2L539.1,58.0L538.1,56.4ZM551.2,53.7L549.6,58.3L547.8,57.9L547.0,56.2ZM560.4,54.0L558.2,58.4L556.5,57.7L556.0,56.0ZM569.7,54.5L566.8,58.5L565.2,57.6L564.9,55.7ZM578.9,55.2L575.3,58.5L573.9,57.3L574.0,55.5ZM588.0,56.1L583.7,58.4L582.7,56.9L583.2,55.2ZM596.9,57.2L592.1,58.3L591.5,56.5L592.5,55.0ZM605.5,58.1L600.6,58.0L600.5,56.2L601.8,54.9ZM614.0,58.9L609.2,57.7L609.4,55.9L611.0,54.9ZM622.4,59.4L617.9,57.4L618.5,55.7L620.2,55.0ZM630.9,59.7L626.7,57.2L627.4,55.6L629.2,55.1ZM537.0,62.2L536.7,67.1L534.8,67.2L533.7,65.8ZM546.1,62.3L545.4,67.2L543.6,67.1L542.5,65.6ZM555.3,62.5L554.1,67.3L552.3,67.0L551.4,65.5ZM564.6,62.9L562.8,67.4L561.0,66.9L560.3,65.2ZM573.9,63.4L571.3,67.5L569.7,66.7L569.3,64.9ZM583.3,64.4L579.7,67.6L578.3,66.3L578.4,64.5ZM592.4,65.7L587.9,67.4L587.1,65.8L587.8,64.1ZM601.1,67.1L596.2,67.1L596.0,65.3L597.3,64.0ZM609.4,68.1L604.7,66.7L605.0,64.9L606.7,64.0ZM617.7,68.7L613.4,66.4L614.1,64.7L615.9,64.2ZM626.1,69.0L622.2,66.1L623.1,64.5L624.9,64.3ZM634.7,69.2L631.0,66.0L632.1,64.5L633.9,64.4ZM541.0,71.1L541.3,76.0L539.5,76.3L538.1,75.0ZM550.1,71.2L550.1,76.1L548.2,76.3L547.0,74.9ZM559.2,71.3L558.8,76.2L557.0,76.2L555.8,74.8ZM568.6,71.6L567.5,76.3L565.6,76.1L564.7,74.5ZM578.1,72.2L575.9,76.5L574.2,75.9L573.7,74.1ZM587.9,73.6L584.0,76.6L582.7,75.3L583.0,73.5ZM596.8,75.9L591.9,76.3L591.6,74.5L592.8,73.1ZM604.8,77.4L600.2,75.6L600.7,73.9L602.4,73.1ZM612.9,78.1L608.9,75.2L609.9,73.6L611.7,73.3ZM621.2,78.4L617.8,74.9L618.9,73.5L620.7,73.5ZM629.8,78.5L626.6,74.8L627.9,73.4L629.7,73.6ZM638.4,78.6L635.5,74.7L636.8,73.4L638.6,73.7ZM535.9,80.0L537.0,84.8L535.3,85.4L533.7,84.4ZM544.8,80.1L545.9,84.8L544.1,85.4L542.6,84.4ZM553.7,80.1L554.7,84.9L552.9,85.4L551.4,84.4ZM562.8,80.1L563.5,84.9L561.7,85.4L560.2,84.3ZM572.0,80.2L572.2,85.1L570.4,85.4L569.1,84.1ZM581.7,80.6L580.8,85.4L578.9,85.2L577.9,83.7ZM592.4,83.6L588.0,85.6L587.1,84.0L587.7,82.3ZM599.6,87.2L595.6,84.2L596.6,82.7L598.4,82.4ZM607.5,87.6L604.5,83.8L605.8,82.5L607.6,82.7ZM615.9,87.7L613.3,83.6L614.8,82.5L616.6,82.9ZM624.6,87.8L622.2,83.5L623.7,82.4L625.5,83.0ZM633.3,87.8L631.1,83.4L632.6,82.4L634.3,83.0ZM539.6,89.1L541.6,93.6L540.0,94.5L538.3,93.8ZM548.4,89.1L550.5,93.5L548.9,94.5L547.2,93.8ZM557.2,89.1L559.3,93.5L557.8,94.5L556.0,93.9ZM565.9,89.1L568.2,93.4L566.7,94.5L564.9,93.9ZM574.3,89.2L577.1,93.3L575.7,94.4L573.9,94.1ZM581.9,89.8L585.9,92.6L585.0,94.2L583.2,94.5ZM590.4,95.9L592.2,91.4L594.0,91.9L594.7,93.5ZM600.8,96.8L600.4,91.9L602.2,91.5L603.6,92.7ZM610.1,96.8L609.2,92.0L610.9,91.5L612.4,92.6ZM619.1,96.9L618.0,92.1L619.7,91.5L621.3,92.5ZM628.1,96.9L626.8,92.1L628.5,91.5L630.1,92.4ZM534.6,98.3L537.2,102.4L535.8,103.5L534.0,103.1ZM543.2,98.3L546.1,102.3L544.7,103.5L542.9,103.2ZM551.9,98.4L554.9,102.2L553.6,103.5L551.8,103.3ZM560.4,98.5L563.8,102.0L562.6,103.4L560.8,103.4ZM568.6,98.9L572.6,101.7L571.7,103.3L569.9,103.6ZM576.6,99.7L581.2,101.2L580.9,103.0L579.3,103.8ZM584.7,101.9L589.3,100.4L590.0,102.1L589.2,103.7ZM594.2,104.2L597.1,100.3L598.6,101.2L598.9,103.0ZM604.0,105.2L605.3,100.5L607.1,100.8L608.0,102.5ZM613.4,105.6L613.9,100.7L615.8,100.7L616.9,102.1ZM622.6,105.7L622.6,100.8L624.5,100.6L625.7,102.0ZM631.7,105.8L631.4,100.9L633.2,100.6L634.6,101.8ZM538.3,107.6L541.7,111.1L540.5,112.5L538.7,112.4ZM546.9,107.7L550.5,111.0L549.5,112.5L547.6,112.5ZM555.4,107.9L559.4,110.8L558.5,112.4L556.6,112.6ZM563.8,108.3L568.1,110.5L567.5,112.2L565.7,112.8ZM572.0,109.0L576.8,110.1L576.6,111.9L575.0,112.9ZM580.3,110.3L585.2,109.7L585.6,111.5L584.5,112.9ZM589.2,111.8L593.4,109.4L594.5,110.9L594.0,112.6ZM598.5,113.1L601.6,109.4L603.1,110.4L603.3,112.2ZM607.9,113.9L610.0,109.5L611.8,110.1L612.4,111.8ZM617.3,114.3L618.6,109.6L620.4,109.9L621.3,111.5ZM626.5,114.5L627.3,109.7L629.1,109.8L630.2,111.3ZM533.5,116.8L537.2,120.0L536.2,121.5L534.4,121.6ZM542.1,117.0L546.1,119.8L545.1,121.4L543.3,121.7ZM550.6,117.2L554.9,119.7L554.1,121.3L552.4,121.8ZM559.1,117.6L563.6,119.4L563.1,121.2L561.4,121.9ZM567.5,118.2L572.3,119.1L572.1,121.0L570.6,122.0ZM576.0,119.1L580.8,118.8L581.1,120.6L579.9,122.0ZM584.7,120.1L589.3,118.6L590.0,120.2L589.2,121.9ZM593.6,121.2L597.6,118.4L598.8,119.8L598.5,121.6ZM602.8,122.1L606.1,118.4L607.6,119.5L607.7,121.3ZM612.1,122.7L614.6,118.5L616.2,119.2L616.7,121.0ZM621.4,123.1L623.2,118.6L624.9,119.1L625.7,120.8ZM630.6,123.4L631.9,118.7L633.7,119.0L634.6,120.6ZM528.8,126.1L532.8,128.9L531.9,130.5L530.1,130.8ZM537.4,126.2L541.6,128.8L540.8,130.4L539.1,130.9ZM546.0,126.5L550.4,128.6L549.8,130.3L548.1,130.9ZM554.5,126.9L559.2,128.4L558.8,130.2L557.1,131.0ZM563.1,127.3L567.9,128.2L567.8,130.0L566.2,131.1ZM571.6,128.0L576.5,127.9L576.7,129.8L575.4,131.1ZM580.3,128.8L585.0,127.7L585.6,129.5L584.6,131.0ZM589.1,129.7L593.5,127.6L594.5,129.1L593.9,130.8ZM598.1,130.5L602.0,127.5L603.3,128.8L603.0,130.6ZM607.3,131.1L610.5,127.5L612.0,128.6L612.1,130.4ZM616.5,131.6L619.1,127.5L620.7,128.4L621.1,130.2ZM625.6,132.0L627.7,127.6L629.5,128.2L630.1,129.9ZM634.8,132.3L636.4,127.7L638.2,128.1L639.0,129.8Z" fill="#000" stroke="#000" stroke-width="0.4"/>
</g>
<circle cx="589.6" cy="87.3" r="8.6" fill="none" stroke="#e02020" stroke-width="0.9"/>
<ellipse cx="589" cy="89" rx="7.4" ry="7" fill="none" stroke="#20a020" stroke-width="0.9"/>
<ellipse cx="593.2" cy="93.8" rx="10" ry="7.6" fill="none" stroke="#2020e0" stroke-width="0.9"/>
<g stroke="#000" stroke-width="0.7"><line x1="647.8" y1="10" x2="593" y2="85"/><line x1="554" y1="151" x2="583.2" y2="92"/><line x1="642.8" y1="151.3" x2="599.7" y2="100.3"/></g>
<rect x="663.1" y="45.7" width="5.7" height="56.2" fill="url(#cbD)"/>
<text x="673" y="51" font-size="9.5">1</text><text x="669.5" y="77.5" font-size="9.5">0.5</text><text x="673" y="104.5" font-size="9.5">0</text>
<text transform="translate(655.5,75) rotate(-90)" font-size="8.6" text-anchor="middle"><tspan font-style="italic">B</tspan><tspan font-size="6" dy="2" font-style="italic">xy</tspan><tspan dy="-2"> (T)</tspan></text>
<g stroke="#000" stroke-width="2.1"><line x1="519.3" y1="141.6" x2="519.3" y2="126"/><line x1="518.3" y1="140.6" x2="535" y2="140.6"/></g>
<path d="M519.3,118.5 l-3.2,9.5 h6.4z M543.5,140.6 l-9.5,-3.2 v6.4z" fill="#000"/>
<text x="519.5" y="116.5" font-size="11" font-style="italic" text-anchor="middle" style="font-family:Liberation Serif">y&#770;</text><text x="548.5" y="144" font-size="11" font-style="italic" text-anchor="middle" style="font-family:Liberation Serif">x&#770;</text>
<text x="611" y="7" font-size="9.5">Vortex core (<tspan style="fill:#1a9a1a">exp.</tspan>)</text>
<text x="516.5" y="159.6" font-size="9.5">Vortex core (<tspan style="fill:#e02020">sim.</tspan>)</text>
<text x="607" y="159.6" font-size="9.5">Vortex core (<tspan style="fill:#2020e0">sim.</tspan>)</text>
<text x="553" y="171.2" font-size="9.5" text-anchor="middle" style="fill:#e02020"><tspan font-style="italic" font-size="11" style="font-family:Liberation Serif">C&#771;</tspan> = +1</text>
<text x="643.8" y="171.2" font-size="9.5" text-anchor="middle" style="fill:#2020e0"><tspan font-style="italic" font-size="11" style="font-family:Liberation Serif">C&#771;</tspan> = &#8722;1</text>
<g stroke="#b8b8b8" stroke-width="0.6"><line x1="186" y1="207" x2="264" y2="202.4"/><line x1="264" y1="202.4" x2="280" y2="224.6"/><line x1="280" y1="224.6" x2="201" y2="228.6"/><line x1="201" y1="228.6" x2="186" y2="207"/><line x1="186" y1="283" x2="264" y2="278"/><line x1="264" y1="278" x2="280" y2="300"/><line x1="280" y1="300" x2="201" y2="304"/><line x1="201" y1="304" x2="186" y2="283"/><line x1="186" y1="207" x2="186" y2="283"/><line x1="264" y1="202.4" x2="264" y2="278"/><line x1="280" y1="224.6" x2="280" y2="300"/><line x1="201" y1="228.6" x2="201" y2="304"/></g>
<text x="281.3" y="231.5" font-size="8">50</text>
<text x="281.3" y="240.2" font-size="8">45</text>
<text x="281.3" y="248.8" font-size="8">40</text>
<text x="281.3" y="257.4" font-size="8">35</text>
<text x="281.3" y="266.1" font-size="8">30</text>
<text x="281.3" y="274.8" font-size="8">25</text>
<text x="281.3" y="283.4" font-size="8">20</text>
<text x="281.3" y="292.0" font-size="8">15</text>
<text x="281.3" y="300.7" font-size="8">10</text>
<g stroke="#888" stroke-width="0.5"><line x1="278.5" y1="228.6" x2="281" y2="228.6"/><line x1="278.5" y1="237.2" x2="281" y2="237.2"/><line x1="278.5" y1="245.9" x2="281" y2="245.9"/><line x1="278.5" y1="254.6" x2="281" y2="254.6"/><line x1="278.5" y1="263.2" x2="281" y2="263.2"/><line x1="278.5" y1="271.9" x2="281" y2="271.9"/><line x1="278.5" y1="280.5" x2="281" y2="280.5"/><line x1="278.5" y1="289.1" x2="281" y2="289.1"/><line x1="278.5" y1="297.8" x2="281" y2="297.8"/></g>
<text transform="translate(299,262) rotate(-90)" font-size="9.8" text-anchor="middle">z (nm)</text>
<text x="180.5" y="288" font-size="7.6">0</text><text x="180" y="296.3" font-size="7.6">2.5</text><text x="189.5" y="301.5" font-size="7.6">5</text><text x="188.5" y="307.8" font-size="7.6">7.5</text>
<text transform="translate(170.2,297.5) rotate(57)" font-size="9.8" text-anchor="middle">y (nm)</text>
<text x="207" y="310.8" font-size="7.4">&#8722;7</text><text x="234.8" y="310.2" font-size="7.4">&#8722;7.5</text><text x="267.5" y="308.5" font-size="7.4">&#8722;8</text>
<text x="242" y="322" font-size="9.8" text-anchor="middle">x (nm)</text>
<path d="M192.6,213.0C193.0,214.3 193.9,218.3 195.0,221.0C196.1,223.7 197.2,226.3 199.0,229.0C200.8,231.7 203.8,234.7 206.0,237.0C208.2,239.3 208.7,240.3 212.0,243.0C215.3,245.7 220.7,249.7 226.0,253.0C231.3,256.3 238.7,259.7 244.0,263.0C249.3,266.3 255.7,271.3 258.0,273.0" stroke="#3a3adc" stroke-width="0.7" fill="none"/>
<path d="M259.0,280.6C256.7,281.2 249.5,282.9 245.0,284.0C240.5,285.1 236.2,286.3 232.0,287.5C227.8,288.7 223.3,289.8 220.0,291.0C216.7,292.2 214.1,293.3 212.0,294.5C209.9,295.7 208.5,296.8 207.5,298.0C206.5,299.2 206.2,301.3 206.0,302.0" stroke="#d83030" stroke-width="0.7" fill="none"/>
<g fill="#000"><circle cx="207.5" cy="232.3" r="1.45"/><circle cx="206.2" cy="234.2" r="1.45"/><circle cx="205.1" cy="236.3" r="1.45"/><circle cx="204.8" cy="238.6" r="1.45"/><circle cx="205.2" cy="240.9" r="1.45"/><circle cx="206.1" cy="243.0" r="1.45"/><circle cx="207.5" cy="244.9" r="1.45"/><circle cx="209.2" cy="246.6" r="1.45"/><circle cx="211.2" cy="248.0" r="1.45"/><circle cx="213.2" cy="249.4" r="1.45"/><circle cx="215.2" cy="250.6" r="1.45"/><circle cx="217.3" cy="251.9" r="1.45"/><circle cx="219.2" cy="253.1" r="1.45"/><circle cx="221.3" cy="254.4" r="1.45"/><circle cx="223.5" cy="255.6" r="1.45"/><circle cx="225.7" cy="256.8" r="1.45"/><circle cx="227.9" cy="258.0" r="1.45"/><circle cx="230.2" cy="259.2" r="1.45"/><circle cx="232.5" cy="260.4" r="1.45"/><circle cx="234.9" cy="261.5" r="1.45"/><circle cx="237.3" cy="262.7" r="1.45"/><circle cx="239.6" cy="263.9" r="1.45"/><circle cx="241.7" cy="264.9" r="1.45"/><circle cx="243.8" cy="266.0" r="1.45"/><circle cx="246.0" cy="267.0" r="1.45"/><circle cx="248.0" cy="268.0" r="1.45"/><circle cx="250.3" cy="269.2" r="1.45"/><circle cx="252.5" cy="270.3" r="1.45"/><circle cx="254.5" cy="271.4" r="1.45"/><circle cx="256.6" cy="272.6" r="1.45"/><circle cx="258.6" cy="273.8" r="1.45"/></g>
<rect x="344.2" y="204" width="141.8" height="98" fill="none" stroke="#444" stroke-width="0.9"/>
<text x="344.2" y="311.5" font-size="8.5" text-anchor="middle">0</text>
<text x="377.3" y="311.5" font-size="8.5" text-anchor="middle">10</text>
<text x="410.4" y="311.5" font-size="8.5" text-anchor="middle">20</text>
<text x="443.5" y="311.5" font-size="8.5" text-anchor="middle">30</text>
<text x="476.6" y="311.5" font-size="8.5" text-anchor="middle">40</text>
<text x="342" y="305.2" font-size="8.5" text-anchor="end">0</text>
<text x="342" y="277.2" font-size="8.5" text-anchor="end">0.2</text>
<text x="342" y="249.2" font-size="8.5" text-anchor="end">0.4</text>
<text x="342" y="221.2" font-size="8.5" text-anchor="end">0.6</text>
<path d="M344.2,302v-2.2M344.2,204v2.2M377.3,302v-2.2M377.3,204v2.2M410.4,302v-2.2M410.4,204v2.2M443.5,302v-2.2M443.5,204v2.2M476.6,302v-2.2M476.6,204v2.2M344.2,302.0h2.2M486,302.0h-2.2M344.2,274.0h2.2M486,274.0h-2.2M344.2,246.0h2.2M486,246.0h-2.2M344.2,218.0h2.2M486,218.0h-2.2" stroke="#444" stroke-width="0.8"/>
<line x1="345" y1="267.6" x2="485" y2="267.6" stroke="#555" stroke-width="0.6" stroke-dasharray="2,1.6"/>
<path d="M348.7,278.7C352.2,278.0 362.3,276.0 370.0,274.5C377.7,273.0 387.5,270.9 395.0,269.5C402.5,268.1 409.2,266.8 415.0,266.0C420.8,265.2 425.0,264.9 430.0,264.8C435.0,264.7 440.0,264.9 445.0,265.2C450.0,265.5 454.6,265.9 460.0,266.5C465.4,267.1 474.6,268.4 477.5,268.8" stroke="#000" stroke-width="1" fill="none"/>
<g fill="#000"><circle cx="348.75" cy="282" r="1.2"/><circle cx="353.25" cy="282" r="1.2"/><circle cx="358.75" cy="279.5" r="1.2"/><circle cx="363.25" cy="277.5" r="1.2"/><circle cx="368.25" cy="290.75" r="1.2"/><circle cx="373.25" cy="278.25" r="1.2"/><circle cx="378.25" cy="272.5" r="1.2"/><circle cx="383" cy="253" r="1.2"/><circle cx="388" cy="273.25" r="1.2"/><circle cx="393.25" cy="268.75" r="1.2"/><circle cx="398" cy="265" r="1.2"/><circle cx="403" cy="265.75" r="1.2"/><circle cx="408" cy="275.75" r="1.2"/><circle cx="413" cy="267" r="1.2"/><circle cx="417.5" cy="269.25" r="1.2"/><circle cx="422.5" cy="254.5" r="1.2"/><circle cx="427.5" cy="266.75" r="1.2"/><circle cx="432.5" cy="262.5" r="1.2"/><circle cx="437.5" cy="259.5" r="1.2"/><circle cx="442.5" cy="213" r="1.2"/><circle cx="447.5" cy="254.25" r="1.2"/><circle cx="452.5" cy="274.25" r="1.2"/><circle cx="457.5" cy="265" r="1.2"/><circle cx="462.5" cy="255" r="1.2"/><circle cx="467.5" cy="266.75" r="1.2"/><circle cx="472.5" cy="277" r="1.2"/><circle cx="477.5" cy="276.25" r="1.2"/></g>
<text x="415" y="200" font-size="9.5" text-anchor="middle">Vortex string curvature, <tspan font-style="italic">&#954;</tspan><tspan font-size="6" dy="1.5" font-style="italic">v</tspan></text>
<text x="412.5" y="323" font-size="9.5" text-anchor="middle">Vortex string length (nm)</text>
<text x="476.5" y="264.3" font-size="8.5" text-anchor="middle" font-style="italic">&#10216;&#954;<tspan font-size="5.5" dy="1.5">v</tspan><tspan dy="-1.5">&#10217;</tspan></text>
<text transform="translate(321.5,250) rotate(-90)" font-size="9.3" text-anchor="middle"><tspan font-style="italic">&#954;</tspan><tspan font-size="6" dy="1.5" font-style="italic">v</tspan><tspan dy="-1.5">, 10</tspan><tspan font-size="6" dy="-3">&#8722;2</tspan><tspan dy="3"> (nm</tspan><tspan font-size="6" dy="-3">&#8722;1</tspan><tspan dy="3">)</tspan></text>
<line x1="539.5" y1="253" x2="680.5" y2="253" stroke="#e4e4e4" stroke-width="0.8"/>
<rect x="539.5" y="203.2" width="141.0" height="99.30000000000001" fill="none" stroke="#444" stroke-width="0.9"/>
<text x="539.8" y="312.5" font-size="8.5" text-anchor="middle">0</text>
<text x="572.5" y="312.5" font-size="8.5" text-anchor="middle">10</text>
<text x="605.2" y="312.5" font-size="8.5" text-anchor="middle">20</text>
<text x="638.0" y="312.5" font-size="8.5" text-anchor="middle">30</text>
<text x="670.7" y="312.5" font-size="8.5" text-anchor="middle">40</text>
<text x="536.5" y="206.6" font-size="8.5" text-anchor="end">2</text>
<text x="536.5" y="231.4" font-size="8.5" text-anchor="end">1</text>
<text x="536.5" y="256.2" font-size="8.5" text-anchor="end">0</text>
<text x="536.5" y="281.0" font-size="8.5" text-anchor="end">&#8722;1</text>
<text x="536.5" y="305.8" font-size="8.5" text-anchor="end">&#8722;2</text>
<path d="M539.8,302.5v-2.2M539.8,203.2v2.2M572.5,302.5v-2.2M572.5,203.2v2.2M605.2,302.5v-2.2M605.2,203.2v2.2M638.0,302.5v-2.2M638.0,203.2v2.2M670.7,302.5v-2.2M670.7,203.2v2.2M539.5,203.4h2.2M680.5,203.4h-2.2M539.5,228.2h2.2M680.5,228.2h-2.2M539.5,253.0h2.2M680.5,253.0h-2.2M539.5,277.8h2.2M680.5,277.8h-2.2M539.5,302.6h2.2M680.5,302.6h-2.2" stroke="#444" stroke-width="0.8"/>
<line x1="540" y1="227.2" x2="680" y2="227.2" stroke="#555" stroke-width="0.6" stroke-dasharray="1.5,1.5"/>
<path d="M544.0,225.2C548.3,225.2 560.7,225.4 570.0,225.5C579.3,225.6 590.8,225.7 600.0,226.0C609.2,226.3 616.7,226.9 625.0,227.5C633.3,228.1 642.1,228.9 650.0,229.5C657.9,230.1 668.8,230.9 672.6,231.2" stroke="#000" stroke-width="1" fill="none"/>
<g fill="#000"><circle cx="544" cy="225.1" r="1.2"/><circle cx="548.5" cy="232.3" r="1.2"/><circle cx="553.8" cy="223.3" r="1.2"/><circle cx="559.1" cy="224.6" r="1.2"/><circle cx="563.6" cy="238.9" r="1.2"/><circle cx="568.3" cy="227.8" r="1.2"/><circle cx="574.1" cy="227.3" r="1.2"/><circle cx="578.4" cy="207.2" r="1.2"/><circle cx="583.6" cy="227.8" r="1.2"/><circle cx="588.9" cy="225.9" r="1.2"/><circle cx="593.9" cy="223.3" r="1.2"/><circle cx="598.7" cy="222.5" r="1.2"/><circle cx="604" cy="234.4" r="1.2"/><circle cx="608.7" cy="228.6" r="1.2"/><circle cx="613.2" cy="231" r="1.2"/><circle cx="618" cy="223.3" r="1.2"/><circle cx="623.2" cy="228.6" r="1.2"/><circle cx="627.7" cy="228.6" r="1.2"/><circle cx="633" cy="231" r="1.2"/><circle cx="643" cy="223.3" r="1.2"/><circle cx="647.8" cy="236.2" r="1.2"/><circle cx="652.8" cy="232.5" r="1.2"/><circle cx="658.1" cy="225.9" r="1.2"/><circle cx="662.6" cy="230.4" r="1.2"/><circle cx="667.8" cy="235.2" r="1.2"/><circle cx="672.9" cy="235.2" r="1.2"/></g>
<text x="610" y="200" font-size="9.5" text-anchor="middle">Vortex string torsion, <tspan font-style="italic">&#964;</tspan><tspan font-size="6" dy="1.5" font-style="italic">v</tspan></text>
<text x="608" y="323" font-size="9.5" text-anchor="middle">Vortex string length (nm)</text>
<text x="672.5" y="224.5" font-size="8.5" text-anchor="middle" font-style="italic">&#10216;&#964;<tspan font-size="5.5" dy="1.5">v</tspan><tspan dy="-1.5">&#10217;</tspan></text>
<text transform="translate(519.5,248.8) rotate(-90)" font-size="9.3" text-anchor="middle"><tspan font-style="italic">&#964;</tspan><tspan font-size="6" dy="1.5" font-style="italic">v</tspan><tspan dy="-1.5">, 10</tspan><tspan font-size="6" dy="-3">&#8722;2</tspan><tspan dy="3"> (nm</tspan><tspan font-size="6" dy="-3">&#8722;1</tspan><tspan dy="3">)</tspan></text>
</svg></body></html>
